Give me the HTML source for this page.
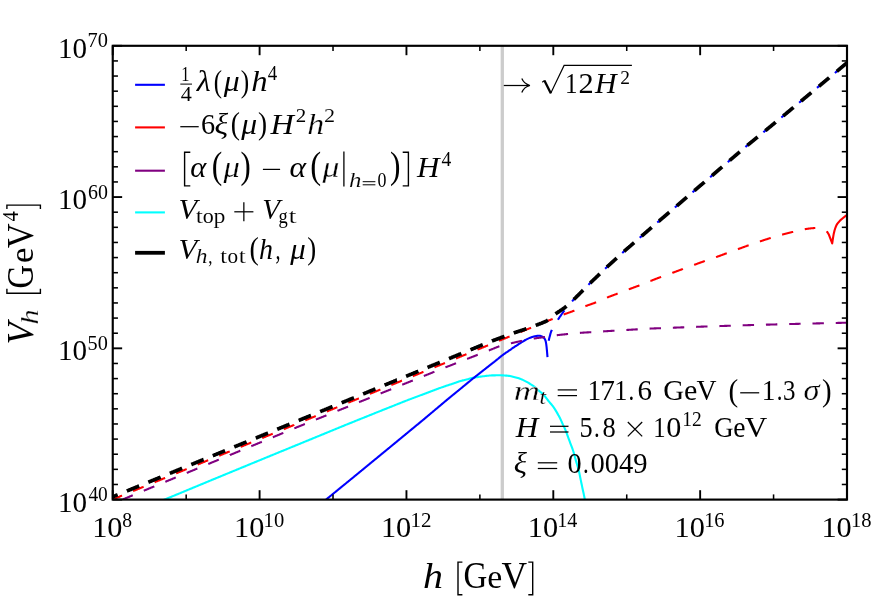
<!DOCTYPE html>
<html><head><meta charset="utf-8"><title>V_h plot</title>
<style>
html,body{margin:0;padding:0;background:#fff;}
body{width:872px;height:604px;overflow:hidden;font-family:"Liberation Serif",serif;}
svg{display:block;font-family:"Liberation Serif",serif;font-kerning:none;will-change:transform;}
</style></head><body>
<svg width="872" height="604" viewBox="0 0 872 604">
<rect x="0" y="0" width="872" height="604" fill="#fff"/>
<defs><clipPath id="ax"><rect x="112.75" y="45.8" width="734.25" height="453.8"/></clipPath></defs>
<g clip-path="url(#ax)">
<line x1="502.3" y1="45.8" x2="502.3" y2="499.6" stroke="#cccccc" stroke-width="3.3"/>
<path d="M151.60 505.00 L152.18 504.76 L152.96 504.43 L153.88 504.05 L154.90 503.62 L155.99 503.17 L157.09 502.71 L158.15 502.27 L159.15 501.85 L160.07 501.47 L160.96 501.09 L161.83 500.73 L162.72 500.36 L163.62 499.98 L164.58 499.58 L165.60 499.16 L166.70 498.70 L167.57 498.34 L168.48 497.96 L169.43 497.57 L170.42 497.16 L171.43 496.74 L172.46 496.31 L173.50 495.88 L174.54 495.45 L175.57 495.02 L176.60 494.59 L177.60 494.18 L178.59 493.76 L179.58 493.35 L180.57 492.94 L181.56 492.53 L182.55 492.12 L183.55 491.71 L184.54 491.30 L185.53 490.88 L186.52 490.47 L187.51 490.06 L188.50 489.65 L189.49 489.24 L190.48 488.83 L191.47 488.42 L192.46 488.00 L193.45 487.59 L194.45 487.18 L195.44 486.77 L196.43 486.36 L197.42 485.95 L198.41 485.54 L199.40 485.12 L200.39 484.72 L201.36 484.31 L202.33 483.91 L203.30 483.50 L204.27 483.10 L205.24 482.70 L206.22 482.29 L207.22 481.88 L208.23 481.46 L209.25 481.03 L210.30 480.60 L211.21 480.23 L212.13 479.84 L213.06 479.46 L214.01 479.07 L214.97 478.67 L215.93 478.27 L216.90 477.87 L217.88 477.47 L218.85 477.07 L219.83 476.67 L220.80 476.27 L221.77 475.87 L222.73 475.48 L223.68 475.08 L224.64 474.69 L225.59 474.29 L226.55 473.90 L227.50 473.50 L228.46 473.11 L229.42 472.72 L230.37 472.32 L231.33 471.93 L232.28 471.53 L233.24 471.14 L234.19 470.74 L235.15 470.35 L236.11 469.96 L237.06 469.56 L238.02 469.17 L238.97 468.77 L239.93 468.38 L240.88 467.98 L241.84 467.59 L242.80 467.20 L243.75 466.80 L244.71 466.41 L245.66 466.01 L246.62 465.62 L247.57 465.23 L248.53 464.83 L249.49 464.43 L250.45 464.04 L251.41 463.64 L252.37 463.24 L253.33 462.85 L254.29 462.45 L255.25 462.06 L256.21 461.66 L257.16 461.27 L258.11 460.88 L259.06 460.49 L260.00 460.10 L261.01 459.68 L262.02 459.27 L263.03 458.86 L264.03 458.44 L265.03 458.04 L266.03 457.63 L267.02 457.22 L268.02 456.81 L269.01 456.41 L270.00 456.00 L271.00 455.59 L272.00 455.18 L273.00 454.77 L274.00 454.36 L275.00 453.95 L276.00 453.54 L277.00 453.13 L278.00 452.72 L279.00 452.31 L280.00 451.90 L281.00 451.49 L282.00 451.08 L283.00 450.67 L284.00 450.26 L285.00 449.85 L286.00 449.44 L287.00 449.03 L288.00 448.62 L289.00 448.21 L290.00 447.80 L291.00 447.39 L292.00 446.98 L293.00 446.57 L294.00 446.16 L295.00 445.75 L296.00 445.34 L297.00 444.93 L298.00 444.52 L299.00 444.11 L300.00 443.70 L301.00 443.29 L302.00 442.88 L303.00 442.47 L304.00 442.06 L305.00 441.65 L306.00 441.24 L307.00 440.83 L308.00 440.42 L309.01 440.01 L310.03 439.59 L311.07 439.16 L312.10 438.74 L313.14 438.31 L314.18 437.89 L315.20 437.47 L316.21 437.05 L317.20 436.65 L318.16 436.25 L319.10 435.87 L320.00 435.50 L321.14 435.03 L322.23 434.59 L323.27 434.16 L324.27 433.75 L325.25 433.34 L326.22 432.95 L327.18 432.55 L328.16 432.15 L329.17 431.73 L330.19 431.31 L331.20 430.90 L332.22 430.48 L333.24 430.06 L334.26 429.64 L335.28 429.22 L336.30 428.80 L337.31 428.39 L338.33 427.97 L339.34 427.55 L340.34 427.14 L341.33 426.73 L342.32 426.33 L343.31 425.92 L344.32 425.50 L345.35 425.08 L346.41 424.64 L347.50 424.20 L348.42 423.83 L349.37 423.44 L350.33 423.05 L351.32 422.66 L352.31 422.26 L353.32 421.85 L354.32 421.45 L355.33 421.04 L356.34 420.64 L357.34 420.23 L358.33 419.83 L359.32 419.44 L360.30 419.04 L361.29 418.64 L362.27 418.25 L363.26 417.85 L364.24 417.45 L365.23 417.05 L366.21 416.66 L367.20 416.26 L368.18 415.86 L369.17 415.47 L370.16 415.07 L371.16 414.66 L372.17 414.26 L373.18 413.85 L374.18 413.44 L375.19 413.04 L376.18 412.63 L377.17 412.24 L378.13 411.85 L379.08 411.47 L380.00 411.10 L381.09 410.66 L382.15 410.24 L383.18 409.83 L384.19 409.43 L385.18 409.04 L386.17 408.65 L387.16 408.26 L388.16 407.87 L389.17 407.47 L390.19 407.06 L391.20 406.66 L392.22 406.26 L393.24 405.85 L394.26 405.45 L395.28 405.04 L396.30 404.64 L397.31 404.24 L398.33 403.83 L399.34 403.43 L400.34 403.03 L401.33 402.64 L402.32 402.24 L403.31 401.84 L404.32 401.44 L405.35 401.04 L406.41 400.62 L407.50 400.20 L408.42 399.85 L409.37 399.49 L410.33 399.12 L411.32 398.75 L412.31 398.38 L413.32 398.01 L414.32 397.63 L415.33 397.25 L416.34 396.88 L417.34 396.50 L418.33 396.13 L419.32 395.76 L420.30 395.39 L421.29 395.02 L422.27 394.65 L423.26 394.28 L424.24 393.92 L425.23 393.55 L426.21 393.18 L427.20 392.81 L428.18 392.44 L429.17 392.07 L430.15 391.69 L431.14 391.32 L432.14 390.94 L433.13 390.56 L434.12 390.19 L435.11 389.81 L436.10 389.44 L437.08 389.07 L438.06 388.70 L439.04 388.35 L440.00 388.00 L441.05 387.63 L442.09 387.26 L443.13 386.91 L444.16 386.56 L445.18 386.21 L446.21 385.87 L447.23 385.53 L448.25 385.19 L449.27 384.85 L450.30 384.50 L451.35 384.14 L452.41 383.77 L453.50 383.39 L454.58 383.01 L455.66 382.64 L456.72 382.27 L457.76 381.92 L458.76 381.58 L459.71 381.28 L460.60 381.00 L461.76 380.66 L462.82 380.38 L463.80 380.15 L464.72 379.93 L465.63 379.73 L466.54 379.53 L467.50 379.30 L468.43 379.06 L469.27 378.82 L470.10 378.58 L470.96 378.34 L471.93 378.10 L473.05 377.85 L474.40 377.60 L475.25 377.46 L476.19 377.30 L477.22 377.14 L478.30 376.98 L479.43 376.82 L480.59 376.65 L481.77 376.49 L482.94 376.33 L484.10 376.18 L485.22 376.04 L486.28 375.91 L487.28 375.80 L488.20 375.70 L489.56 375.57 L490.81 375.48 L491.98 375.42 L493.08 375.38 L494.12 375.35 L495.11 375.33 L496.06 375.32 L497.00 375.30 L498.15 375.28 L499.16 375.27 L500.10 375.27 L501.03 375.29 L502.00 375.33 L503.10 375.40 L503.99 375.46 L504.90 375.51 L505.84 375.58 L506.81 375.66 L507.81 375.76 L508.86 375.89 L509.95 376.07 L511.10 376.30 L511.98 376.49 L512.89 376.70 L513.84 376.93 L514.82 377.18 L515.82 377.44 L516.83 377.73 L517.85 378.03 L518.88 378.36 L519.90 378.72 L520.91 379.10 L521.90 379.50 L522.82 379.91 L523.76 380.35 L524.73 380.84 L525.70 381.35 L526.68 381.87 L527.64 382.42 L528.59 382.96 L529.50 383.50 L530.38 384.04 L531.22 384.55 L531.99 385.04 L532.70 385.50 L533.75 386.23 L534.63 386.91 L535.37 387.55 L536.04 388.18 L536.68 388.79 L537.33 389.41 L538.05 390.05 L538.81 390.68 L539.58 391.29 L540.34 391.88 L541.10 392.50 L541.87 393.14 L542.63 393.83 L543.40 394.60 L544.07 395.34 L544.75 396.13 L545.42 396.97 L546.10 397.84 L546.77 398.72 L547.45 399.61 L548.12 400.49 L548.80 401.35 L549.47 402.17 L550.15 402.97 L550.82 403.76 L551.49 404.55 L552.17 405.37 L552.84 406.22 L553.52 407.12 L554.20 408.10 L554.76 408.95 L555.33 409.87 L555.92 410.85 L556.52 411.85 L557.10 412.87 L557.68 413.89 L558.23 414.89 L558.76 415.85 L559.25 416.76 L559.70 417.60 L560.26 418.68 L560.73 419.65 L561.14 420.56 L561.52 421.42 L561.88 422.26 L562.25 423.11 L562.65 424.00 L563.06 424.88 L563.47 425.71 L563.87 426.54 L564.28 427.38 L564.70 428.29 L565.13 429.28 L565.60 430.40 L565.95 431.27 L566.31 432.21 L566.68 433.20 L567.06 434.24 L567.45 435.31 L567.84 436.39 L568.23 437.49 L568.63 438.58 L569.02 439.65 L569.40 440.70 L569.78 441.73 L570.18 442.77 L570.57 443.80 L570.97 444.84 L571.36 445.88 L571.75 446.91 L572.13 447.94 L572.50 448.97 L572.86 449.99 L573.20 451.00 L573.52 452.00 L573.82 453.00 L574.11 453.99 L574.39 454.97 L574.66 455.95 L574.93 456.93 L575.19 457.91 L575.46 458.89 L575.72 459.87 L576.00 460.85 L576.28 461.84 L576.57 462.83 L576.87 463.82 L577.16 464.81 L577.45 465.80 L577.74 466.79 L578.02 467.78 L578.29 468.76 L578.55 469.73 L578.80 470.70 L579.06 471.76 L579.29 472.82 L579.52 473.87 L579.73 474.91 L579.94 475.95 L580.14 476.98 L580.35 478.02 L580.55 479.06 L580.77 480.10 L580.99 481.14 L581.20 482.19 L581.42 483.23 L581.64 484.28 L581.86 485.32 L582.08 486.37 L582.30 487.41 L582.51 488.46 L582.73 489.50 L582.95 490.54 L583.18 491.56 L583.40 492.57 L583.63 493.58 L583.85 494.61 L584.07 495.64 L584.29 496.70 L584.50 497.78 L584.70 498.90 L584.87 499.89 L585.03 500.96 L585.21 502.10 L585.38 503.28 L585.54 504.46 L585.70 505.61 L585.85 506.71 L585.99 507.73 L586.11 508.63 L586.22 509.40 L586.30 510.00" fill="none" stroke="#00ffff" stroke-width="2.1" stroke-linejoin="round"/>
<path d="M317.60 506.50 L317.82 506.32 L318.07 506.12 L318.35 505.89 L318.66 505.63 L319.00 505.35 L319.37 505.05 L319.75 504.74 L320.15 504.41 L320.57 504.06 L321.01 503.71 L321.45 503.34 L321.90 502.97 L322.36 502.60 L322.82 502.22 L323.28 501.84 L323.74 501.47 L324.19 501.10 L324.64 500.73 L325.07 500.38 L325.49 500.03 L325.90 499.70 L326.30 499.38 L326.69 499.05 L327.09 498.73 L327.49 498.40 L327.88 498.08 L328.28 497.75 L328.68 497.43 L329.08 497.10 L329.48 496.78 L329.87 496.45 L330.27 496.13 L330.67 495.80 L331.07 495.48 L331.46 495.15 L331.86 494.83 L332.26 494.50 L332.66 494.18 L333.06 493.85 L333.45 493.53 L333.85 493.20 L334.25 492.88 L334.65 492.55 L335.05 492.23 L335.44 491.90 L335.84 491.57 L336.24 491.25 L336.64 490.93 L337.03 490.60 L337.43 490.27 L337.83 489.95 L338.23 489.62 L338.62 489.30 L339.02 488.97 L339.42 488.65 L339.82 488.32 L340.21 488.00 L340.61 487.68 L341.01 487.35 L341.41 487.02 L341.80 486.70 L342.20 486.38 L342.60 486.05 L343.00 485.72 L343.40 485.40 L343.79 485.07 L344.19 484.75 L344.59 484.42 L344.99 484.10 L345.38 483.77 L345.78 483.45 L346.18 483.12 L346.58 482.80 L346.97 482.47 L347.37 482.15 L347.77 481.82 L348.17 481.50 L348.56 481.17 L348.96 480.85 L349.36 480.52 L349.76 480.20 L350.15 479.87 L350.55 479.55 L350.95 479.22 L351.35 478.90 L351.74 478.58 L352.13 478.26 L352.52 477.94 L352.91 477.63 L353.29 477.31 L353.68 477.00 L354.06 476.68 L354.45 476.37 L354.84 476.05 L355.23 475.73 L355.62 475.41 L356.01 475.09 L356.41 474.77 L356.81 474.44 L357.21 474.11 L357.62 473.78 L358.03 473.44 L358.45 473.10 L358.87 472.75 L359.30 472.40 L359.67 472.10 L360.04 471.80 L360.41 471.49 L360.79 471.18 L361.17 470.86 L361.56 470.55 L361.94 470.23 L362.33 469.91 L362.73 469.59 L363.12 469.26 L363.52 468.93 L363.92 468.61 L364.32 468.28 L364.72 467.95 L365.12 467.61 L365.53 467.28 L365.93 466.95 L366.33 466.62 L366.73 466.29 L367.14 465.96 L367.54 465.63 L367.94 465.30 L368.33 464.97 L368.73 464.65 L369.12 464.32 L369.52 464.00 L369.91 463.68 L370.30 463.36 L370.70 463.03 L371.09 462.71 L371.48 462.39 L371.88 462.06 L372.27 461.74 L372.66 461.42 L373.06 461.09 L373.45 460.77 L373.84 460.45 L374.23 460.13 L374.63 459.80 L375.02 459.48 L375.41 459.16 L375.81 458.83 L376.20 458.51 L376.59 458.19 L376.99 457.87 L377.38 457.54 L377.77 457.22 L378.16 456.90 L378.56 456.57 L378.95 456.25 L379.34 455.93 L379.74 455.60 L380.13 455.28 L380.52 454.96 L380.92 454.63 L381.31 454.31 L381.70 453.99 L382.09 453.67 L382.49 453.34 L382.88 453.02 L383.27 452.70 L383.67 452.37 L384.06 452.05 L384.45 451.73 L384.85 451.41 L385.24 451.08 L385.63 450.76 L386.02 450.44 L386.42 450.11 L386.81 449.79 L387.20 449.47 L387.60 449.14 L387.99 448.82 L388.38 448.50 L388.78 448.18 L389.17 447.85 L389.57 447.53 L389.96 447.20 L390.36 446.87 L390.76 446.54 L391.16 446.21 L391.57 445.88 L391.97 445.55 L392.37 445.22 L392.78 444.89 L393.18 444.56 L393.58 444.23 L393.98 443.90 L394.38 443.57 L394.77 443.25 L395.17 442.92 L395.56 442.60 L395.95 442.28 L396.34 441.96 L396.73 441.64 L397.11 441.33 L397.49 441.01 L397.86 440.71 L398.23 440.40 L398.60 440.10 L399.03 439.75 L399.45 439.40 L399.87 439.05 L400.28 438.71 L400.69 438.38 L401.10 438.04 L401.50 437.71 L401.89 437.39 L402.29 437.06 L402.68 436.74 L403.07 436.42 L403.46 436.10 L403.84 435.78 L404.23 435.46 L404.62 435.14 L405.01 434.82 L405.39 434.50 L405.78 434.18 L406.18 433.85 L406.57 433.53 L406.97 433.20 L407.37 432.87 L407.76 432.54 L408.16 432.21 L408.56 431.89 L408.96 431.56 L409.36 431.23 L409.76 430.90 L410.15 430.57 L410.55 430.24 L410.95 429.91 L411.35 429.59 L411.75 429.26 L412.15 428.93 L412.54 428.60 L412.94 428.27 L413.34 427.94 L413.74 427.61 L414.14 427.29 L414.54 426.96 L414.93 426.63 L415.33 426.30 L415.73 425.97 L416.13 425.64 L416.53 425.31 L416.94 424.98 L417.34 424.65 L417.74 424.32 L418.15 423.99 L418.55 423.65 L418.95 423.32 L419.36 422.99 L419.76 422.66 L420.16 422.33 L420.56 422.00 L420.96 421.67 L421.36 421.34 L421.75 421.02 L422.15 420.69 L422.54 420.36 L422.93 420.04 L423.32 419.72 L423.70 419.40 L424.10 419.07 L424.50 418.73 L424.89 418.40 L425.29 418.07 L425.68 417.75 L426.07 417.42 L426.45 417.10 L426.84 416.77 L427.22 416.45 L427.61 416.12 L427.99 415.80 L428.37 415.48 L428.75 415.16 L429.13 414.84 L429.51 414.52 L429.90 414.19 L430.28 413.87 L430.66 413.55 L431.05 413.22 L431.43 412.90 L431.82 412.57 L432.21 412.25 L432.59 411.92 L432.98 411.60 L433.37 411.27 L433.75 410.95 L434.14 410.62 L434.53 410.30 L434.91 409.97 L435.30 409.65 L435.69 409.32 L436.07 409.00 L436.46 408.67 L436.85 408.35 L437.23 408.02 L437.62 407.70 L438.01 407.37 L438.39 407.05 L438.78 406.72 L439.17 406.40 L439.55 406.08 L439.94 405.75 L440.32 405.43 L440.70 405.11 L441.08 404.79 L441.46 404.47 L441.83 404.15 L442.21 403.83 L442.59 403.51 L442.97 403.19 L443.35 402.87 L443.74 402.55 L444.12 402.22 L444.51 401.90 L444.90 401.57 L445.29 401.24 L445.69 400.91 L446.09 400.58 L446.49 400.24 L446.90 399.90 L447.28 399.59 L447.65 399.28 L448.04 398.96 L448.42 398.64 L448.81 398.32 L449.20 398.00 L449.60 397.68 L449.99 397.35 L450.39 397.03 L450.79 396.70 L451.19 396.37 L451.59 396.04 L451.99 395.72 L452.40 395.39 L452.80 395.06 L453.20 394.73 L453.60 394.40 L454.01 394.07 L454.41 393.74 L454.81 393.42 L455.20 393.09 L455.60 392.77 L456.00 392.44 L456.39 392.12 L456.79 391.79 L457.18 391.47 L457.58 391.15 L457.97 390.82 L458.37 390.50 L458.76 390.17 L459.16 389.85 L459.55 389.52 L459.95 389.20 L460.35 388.88 L460.74 388.55 L461.14 388.23 L461.53 387.90 L461.93 387.58 L462.32 387.25 L462.72 386.93 L463.11 386.61 L463.51 386.28 L463.90 385.96 L464.30 385.63 L464.70 385.31 L465.09 384.98 L465.49 384.65 L465.89 384.32 L466.30 383.99 L466.70 383.66 L467.10 383.33 L467.50 383.00 L467.90 382.67 L468.31 382.33 L468.71 382.00 L469.11 381.67 L469.51 381.35 L469.90 381.02 L470.30 380.70 L470.69 380.37 L471.08 380.05 L471.47 379.74 L471.86 379.42 L472.24 379.11 L472.62 378.80 L473.00 378.50 L473.43 378.15 L473.86 377.81 L474.28 377.48 L474.70 377.14 L475.12 376.81 L475.53 376.49 L475.94 376.17 L476.35 375.85 L476.75 375.53 L477.16 375.21 L477.56 374.90 L477.96 374.58 L478.37 374.27 L478.77 373.96 L479.17 373.64 L479.58 373.32 L479.98 373.01 L480.39 372.69 L480.80 372.37 L481.21 372.04 L481.62 371.72 L482.03 371.40 L482.44 371.08 L482.85 370.75 L483.26 370.43 L483.67 370.11 L484.08 369.78 L484.49 369.46 L484.91 369.14 L485.32 368.82 L485.73 368.49 L486.14 368.17 L486.55 367.85 L486.96 367.52 L487.37 367.20 L487.78 366.88 L488.19 366.56 L488.60 366.23 L489.01 365.91 L489.43 365.58 L489.84 365.26 L490.26 364.93 L490.68 364.60 L491.10 364.27 L491.53 363.94 L491.95 363.61 L492.37 363.28 L492.78 362.95 L493.20 362.62 L493.61 362.30 L494.03 361.98 L494.43 361.65 L494.84 361.34 L495.24 361.02 L495.63 360.71 L496.02 360.40 L496.40 360.10 L496.85 359.74 L497.28 359.39 L497.71 359.04 L498.14 358.70 L498.56 358.35 L498.97 358.01 L499.38 357.68 L499.79 357.34 L500.19 357.01 L500.59 356.68 L500.99 356.36 L501.39 356.04 L501.79 355.73 L502.19 355.41 L502.60 355.11 L503.00 354.80 L503.43 354.48 L503.86 354.17 L504.29 353.86 L504.72 353.56 L505.15 353.27 L505.57 352.98 L506.00 352.69 L506.42 352.40 L506.85 352.12 L507.27 351.83 L507.70 351.55 L508.12 351.27 L508.55 350.98 L508.97 350.69 L509.40 350.40 L509.82 350.11 L510.22 349.83 L510.61 349.56 L510.99 349.28 L511.37 349.01 L511.75 348.75 L512.14 348.47 L512.53 348.20 L512.93 347.92 L513.35 347.63 L513.79 347.33 L514.24 347.02 L514.73 346.70 L515.25 346.36 L515.80 346.00 L516.15 345.77 L516.52 345.54 L516.90 345.29 L517.30 345.03 L517.71 344.76 L518.14 344.49 L518.57 344.21 L519.01 343.92 L519.46 343.63 L519.92 343.34 L520.38 343.05 L520.84 342.75 L521.31 342.46 L521.77 342.17 L522.24 341.88 L522.70 341.59 L523.16 341.31 L523.61 341.04 L524.05 340.78 L524.49 340.52 L524.92 340.27 L525.33 340.03 L525.74 339.81 L526.13 339.60 L526.50 339.40 L527.06 339.11 L527.61 338.85 L528.15 338.60 L528.67 338.36 L529.18 338.15 L529.67 337.94 L530.16 337.76 L530.63 337.58 L531.09 337.42 L531.55 337.26 L531.99 337.12 L532.43 336.98 L532.86 336.85 L533.28 336.73 L533.69 336.61 L534.10 336.50 L534.74 336.33 L535.35 336.19 L535.94 336.06 L536.50 335.96 L537.04 335.88 L537.57 335.82 L538.07 335.79 L538.56 335.77 L539.04 335.78 L539.50 335.80 L540.13 335.87 L540.72 335.99 L541.28 336.16 L541.81 336.36 L542.30 336.61 L542.77 336.89 L543.20 337.20 L543.60 337.54 L543.97 337.90 L544.31 338.30 L544.61 338.75 L544.90 339.24 L545.16 339.79 L545.40 340.40 L545.53 340.78 L545.65 341.17 L545.75 341.57 L545.85 341.99 L545.94 342.42 L546.02 342.87 L546.10 343.36 L546.18 343.87 L546.26 344.42 L546.34 345.00 L546.42 345.63 L546.50 346.30 L546.55 346.72 L546.60 347.18 L546.66 347.68 L546.71 348.21 L546.77 348.77 L546.82 349.34 L546.88 349.94 L546.93 350.54 L546.99 351.15 L547.04 351.76 L547.10 352.37 L547.15 352.97 L547.20 353.55 L547.24 354.12 L547.29 354.66 L547.33 355.17 L547.37 355.64 L547.41 356.08 L547.44 356.47 L547.47 356.81 L547.50 357.10" fill="none" stroke="#0000ff" stroke-width="2.1" stroke-linejoin="round"/>
<path d="M548.64 340.76 L548.68 340.59 L548.78 340.18 L548.90 339.69 L549.03 339.15 L549.18 338.57 L549.33 337.96 L549.49 337.35 L549.65 336.76 L549.80 336.20 L549.93 335.72 L550.06 335.23 L550.18 334.74 L550.31 334.26 L550.44 333.76 L550.58 333.26 L550.74 332.76 L550.91 332.25 L551.09 331.73 L551.30 331.20 L551.49 330.75 L551.69 330.29 L551.89 329.86 M557.93 319.71 L558.05 319.53 L558.30 319.15 L558.58 318.74 L558.86 318.32 L559.15 317.89 L559.45 317.44 L559.76 316.99 L560.07 316.53 L560.39 316.06 L560.71 315.59 L561.03 315.13 L561.34 314.66 L561.66 314.20 L561.98 313.75 L562.28 313.30 L562.59 312.87 L562.88 312.45 L563.16 312.05 L563.44 311.66 L563.70 311.30 L564.08 310.77 L564.41 310.33 M572.08 301.35 L572.30 301.11 L572.50 300.90 L572.84 300.38 L573.18 300.05 L573.52 299.73 L573.86 299.40 L574.20 299.06 L574.54 298.73 L574.89 298.39 L575.24 298.05 L575.58 297.70 L575.94 297.36 L576.29 297.01 L576.65 296.65 L577.00 296.29 L577.37 295.93 L577.73 295.57 L578.10 295.20 L578.47 294.83 L578.85 294.45 L579.23 294.07 L579.61 293.69 L580.00 293.30 L580.06 293.24 M588.37 284.82 L588.55 284.64 L588.90 284.30 L589.28 283.93 L589.65 283.56 L590.02 283.20 L590.40 282.84 L590.77 282.48 L591.14 282.12 L591.50 281.77 L591.87 281.42 L592.24 281.07 L592.61 280.72 L592.97 280.37 L593.34 280.02 L593.70 279.67 L594.06 279.33 L594.43 278.98 L594.79 278.64 L595.16 278.29 L595.52 277.94 L595.89 277.60 L596.25 277.25 L596.59 276.93 M605.12 268.74 L605.43 268.45 L605.80 268.10 L606.17 267.75 L606.54 267.41 L606.91 267.06 L607.28 266.72 L607.65 266.38 L608.02 266.03 L608.39 265.69 L608.77 265.35 L609.14 265.01 L609.51 264.67 L609.88 264.33 L610.25 263.99 L610.63 263.65 L611.00 263.31 L611.37 262.97 L611.74 262.63 L612.12 262.29 L612.49 261.95 L612.86 261.61 L613.23 261.27 L613.51 261.02 M622.21 253.02 L622.52 252.74 L622.90 252.40 L623.28 252.06 L623.66 251.72 L624.04 251.39 L624.42 251.05 L624.80 250.72 L625.19 250.38 L625.57 250.05 L625.96 249.71 L626.34 249.38 L626.73 249.04 L627.11 248.71 L627.50 248.37 L627.89 248.04 L628.27 247.71 L628.66 247.37 L629.05 247.04 L629.43 246.70 L629.82 246.37 L630.21 246.04 L630.59 245.70 L630.80 245.53 M639.71 237.77 L639.84 237.66 L640.22 237.33 L640.60 237.00 L640.98 236.67 L641.36 236.34 L641.74 236.01 L642.12 235.68 L642.50 235.35 L642.88 235.02 L643.26 234.69 L643.64 234.36 L644.02 234.03 L644.39 233.71 L644.77 233.38 L645.15 233.05 L645.53 232.72 L645.90 232.40 L646.28 232.07 L646.66 231.74 L647.03 231.42 L647.41 231.09 L647.79 230.76 L648.17 230.43 L648.32 230.30 M657.25 222.55 L657.62 222.23 L658.00 221.90 L658.38 221.57 L658.76 221.24 L659.15 220.92 L659.53 220.59 L659.91 220.26 L660.30 219.93 L660.68 219.60 L661.07 219.27 L661.45 218.95 L661.84 218.62 L662.22 218.29 L662.61 217.96 L662.99 217.63 L663.38 217.30 L663.77 216.98 L664.15 216.65 L664.54 216.32 L664.92 215.99 L665.31 215.66 L665.69 215.33 L665.92 215.14 M674.91 207.48 L674.93 207.46 L675.32 207.13 L675.70 206.80 L676.08 206.47 L676.47 206.14 L676.85 205.81 L677.23 205.48 L677.62 205.15 L678.00 204.82 L678.38 204.49 L678.76 204.16 L679.15 203.83 L679.53 203.50 L679.91 203.17 L680.29 202.84 L680.68 202.51 L681.06 202.18 L681.44 201.85 L681.82 201.51 L682.21 201.18 L682.59 200.85 L682.97 200.52 L683.35 200.19 L683.54 200.03 M692.49 192.30 L692.53 192.26 L692.91 191.93 L693.30 191.60 L693.69 191.27 L694.07 190.94 L694.46 190.60 L694.85 190.27 L695.24 189.94 L695.62 189.61 L696.01 189.28 L696.40 188.94 L696.79 188.61 L697.18 188.28 L697.57 187.94 L697.96 187.61 L698.35 187.28 L698.74 186.95 L699.13 186.61 L699.52 186.28 L699.91 185.95 L700.30 185.61 L700.69 185.28 L701.08 184.95 L701.15 184.89 M710.14 177.21 L710.43 176.96 L710.81 176.63 L711.20 176.30 L711.59 175.97 L711.97 175.64 L712.36 175.31 L712.75 174.98 L713.13 174.64 L713.52 174.31 L713.90 173.98 L714.29 173.65 L714.67 173.32 L715.05 172.99 L715.44 172.66 L715.82 172.33 L716.21 172.00 L716.59 171.67 L716.98 171.34 L717.36 171.01 L717.74 170.68 L718.13 170.35 L718.51 170.02 L718.79 169.79 M727.75 162.08 L728.13 161.76 L728.52 161.43 L728.90 161.10 L729.28 160.77 L729.67 160.44 L730.05 160.12 L730.43 159.79 L730.82 159.46 L731.20 159.14 L731.58 158.81 L731.96 158.48 L732.35 158.16 L732.73 157.83 L733.11 157.51 L733.49 157.18 L733.88 156.86 L734.26 156.53 L734.64 156.20 L735.02 155.88 L735.41 155.55 L735.79 155.23 L736.17 154.90 L736.43 154.69 M745.42 147.01 L745.73 146.74 L746.12 146.42 L746.50 146.10 L746.90 145.77 L747.30 145.43 L747.70 145.10 L748.11 144.77 L748.51 144.44 L748.91 144.10 L749.31 143.77 L749.71 143.45 L750.12 143.12 L750.52 142.79 L750.92 142.46 L751.32 142.13 L751.73 141.80 L752.13 141.48 L752.53 141.15 L752.94 140.82 L753.34 140.49 L753.74 140.16 L754.14 139.84 L754.22 139.77 M763.37 132.28 L763.39 132.26 L763.79 131.93 L764.20 131.60 L764.59 131.28 L764.98 130.96 L765.37 130.64 L765.76 130.32 L766.15 130.00 L766.54 129.68 L766.93 129.36 L767.32 129.04 L767.71 128.72 L768.10 128.39 L768.49 128.07 L768.89 127.75 L769.28 127.43 L769.67 127.10 L770.06 126.78 L770.46 126.46 L770.85 126.13 L771.24 125.81 L771.63 125.49 L772.02 125.17 L772.17 125.04 M781.31 117.54 L781.42 117.45 L781.81 117.12 L782.20 116.80 L782.59 116.48 L782.98 116.15 L783.37 115.83 L783.76 115.51 L784.15 115.18 L784.54 114.86 L784.93 114.54 L785.32 114.21 L785.71 113.89 L786.09 113.56 L786.48 113.24 L786.87 112.92 L787.26 112.59 L787.65 112.27 L788.04 111.94 L788.43 111.62 L788.82 111.29 L789.21 110.97 L789.59 110.65 L789.98 110.32 L790.07 110.25 M799.15 102.69 L799.32 102.55 L799.71 102.22 L800.10 101.90 L800.49 101.58 L800.88 101.25 L801.27 100.93 L801.66 100.60 L802.05 100.28 L802.43 99.96 L802.82 99.63 L803.21 99.31 L803.60 98.98 L803.99 98.66 L804.38 98.34 L804.77 98.01 L805.16 97.69 L805.55 97.37 L805.94 97.04 L806.33 96.72 L806.72 96.39 L807.10 96.07 L807.49 95.75 L807.88 95.42 L807.92 95.39 M817.00 87.83 L817.22 87.65 L817.61 87.33 L818.00 87.00 L818.39 86.67 L818.79 86.35 L819.18 86.02 L819.57 85.69 L819.97 85.37 L820.36 85.04 L820.76 84.71 L821.15 84.38 L821.55 84.05 L821.95 83.72 L822.34 83.40 L822.74 83.07 L823.14 82.74 L823.53 82.41 L823.93 82.08 L824.33 81.75 L824.72 81.42 L825.12 81.09 L825.52 80.76 L825.77 80.55 M834.87 73.01 L835.18 72.75 L835.53 72.46 L835.87 72.17 L836.20 71.90 L836.71 71.47 L837.19 71.07 L837.64 70.69 L838.07 70.33 L838.47 69.98 L838.86 69.65 L839.24 69.33 L839.61 69.01 L839.97 68.70 L840.34 68.39 L840.70 68.08 L841.07 67.76 L841.45 67.44 L841.85 67.10 L842.25 66.76 L842.65 66.42 L843.05 66.08 L843.45 65.74 L843.57 65.64 M852.58 57.99 L852.96 57.67 L853.36 57.33 L853.75 57.00 L854.15 56.66 L854.57 56.30 L855.01 55.93 L855.46 55.55 L855.91 55.17 L856.37 54.78 L856.82 54.40 L857.27 54.02 L857.70 53.65 L858.11 53.30 L858.51 52.96 L858.88 52.65 L859.21 52.37 L859.52 52.11 L859.78 51.89 L860.00 51.70" fill="none" stroke="#0000ff" stroke-width="2.1"/>
<path d="M101.60 508.20 L101.86 508.09 L102.15 507.97 L102.48 507.84 L102.83 507.69 L103.22 507.53 L103.64 507.36 L104.08 507.17 L104.54 506.98 L105.02 506.78 L105.52 506.57 L106.04 506.36 L106.57 506.14 L107.10 505.92 L107.65 505.70 L108.19 505.47 L108.75 505.24 L109.30 505.01 L109.85 504.79 L110.39 504.56 L110.93 504.34 L111.29 504.19 M122.27 499.64 L122.34 499.61 L122.82 499.41 L123.31 499.21 L123.80 499.01 L124.30 498.80 L124.74 498.62 L125.19 498.43 L125.64 498.24 L126.09 498.06 L126.55 497.87 L127.01 497.68 L127.47 497.49 L127.93 497.30 L128.39 497.10 L128.86 496.91 L129.33 496.72 L129.80 496.52 L130.26 496.33 L130.74 496.13 L131.21 495.94 L131.68 495.74 L132.15 495.55 L132.62 495.35 L132.80 495.28 M143.77 490.73 L143.82 490.71 L144.29 490.52 L144.75 490.33 L145.22 490.13 L145.68 489.94 L146.15 489.75 L146.61 489.56 L147.08 489.36 L147.54 489.17 L148.01 488.98 L148.47 488.79 L148.94 488.59 L149.40 488.40 L149.86 488.21 L150.33 488.01 L150.79 487.82 L151.26 487.63 L151.72 487.44 L152.19 487.24 L152.65 487.05 L153.12 486.86 L153.58 486.67 L154.05 486.47 L154.30 486.37 M165.28 481.82 L165.67 481.66 L166.13 481.47 L166.60 481.27 L167.06 481.08 L167.53 480.89 L167.99 480.70 L168.46 480.50 L168.92 480.31 L169.39 480.12 L169.85 479.93 L170.32 479.73 L170.78 479.54 L171.25 479.35 L171.71 479.16 L172.18 478.96 L172.64 478.77 L173.11 478.58 L173.57 478.39 L174.04 478.19 L174.50 478.00 L174.96 477.81 L175.43 477.61 L175.81 477.46 M186.79 472.91 L187.05 472.80 L187.51 472.61 L187.98 472.41 L188.44 472.22 L188.91 472.03 L189.37 471.84 L189.84 471.64 L190.30 471.45 L190.77 471.26 L191.23 471.07 L191.70 470.87 L192.16 470.68 L192.63 470.49 L193.09 470.30 L193.56 470.10 L194.02 469.91 L194.49 469.72 L194.95 469.53 L195.42 469.33 L195.88 469.14 L196.35 468.95 L196.81 468.76 L197.28 468.56 L197.32 468.55 M208.29 464.00 L208.43 463.94 L208.90 463.75 L209.36 463.56 L209.83 463.36 L210.29 463.17 L210.76 462.98 L211.22 462.79 L211.69 462.59 L212.15 462.40 L212.61 462.21 L213.08 462.01 L213.54 461.82 L214.01 461.63 L214.47 461.44 L214.94 461.24 L215.40 461.05 L215.87 460.86 L216.33 460.67 L216.80 460.47 L217.26 460.28 L217.73 460.09 L218.19 459.90 L218.66 459.70 L218.83 459.63 M229.80 455.09 L229.81 455.08 L230.28 454.89 L230.74 454.70 L231.21 454.50 L231.67 454.31 L232.14 454.12 L232.60 453.93 L233.07 453.73 L233.53 453.54 L234.00 453.35 L234.46 453.16 L234.93 452.96 L235.39 452.77 L235.86 452.58 L236.32 452.39 L236.79 452.19 L237.25 452.00 L237.71 451.81 L238.18 451.61 L238.64 451.42 L239.11 451.23 L239.57 451.04 L240.04 450.84 L240.33 450.72 M251.31 446.18 L251.66 446.03 L252.12 445.84 L252.59 445.64 L253.05 445.45 L253.52 445.26 L253.98 445.07 L254.45 444.87 L254.91 444.68 L255.38 444.49 L255.84 444.30 L256.31 444.10 L256.77 443.91 L257.24 443.72 L257.70 443.53 L258.17 443.33 L258.63 443.14 L259.10 442.95 L259.56 442.76 L260.03 442.56 L260.49 442.37 L260.96 442.18 L261.42 441.99 L261.84 441.81 M272.81 437.26 L273.04 437.17 L273.51 436.98 L273.97 436.79 L274.44 436.59 L274.90 436.40 L275.36 436.21 L275.83 436.01 L276.29 435.82 L276.76 435.63 L277.22 435.44 L277.69 435.24 L278.15 435.05 L278.62 434.86 L279.08 434.67 L279.55 434.47 L280.01 434.28 L280.48 434.09 L280.94 433.90 L281.41 433.70 L281.87 433.51 L282.34 433.32 L282.80 433.13 L283.27 432.93 L283.35 432.90 M294.32 428.34 L294.41 428.31 L294.87 428.11 L295.34 427.92 L295.80 427.73 L296.27 427.54 L296.73 427.34 L297.20 427.15 L297.67 426.96 L298.13 426.77 L298.60 426.57 L299.06 426.38 L299.53 426.19 L300.00 426.00 L300.47 425.81 L300.94 425.62 L301.41 425.43 L301.88 425.24 L302.35 425.04 L302.82 424.85 L303.29 424.66 L303.76 424.47 L304.23 424.28 L304.70 424.09 L304.87 424.03 M315.89 419.59 L316.03 419.53 L316.50 419.34 L316.97 419.15 L317.44 418.96 L317.91 418.77 L318.38 418.58 L318.86 418.39 L319.33 418.20 L319.80 418.01 L320.27 417.82 L320.74 417.63 L321.21 417.44 L321.68 417.25 L322.15 417.06 L322.63 416.87 L323.10 416.68 L323.57 416.49 L324.04 416.30 L324.51 416.11 L324.98 415.92 L325.45 415.73 L325.93 415.54 L326.40 415.35 L326.46 415.32 M337.48 410.88 L337.71 410.78 L338.18 410.59 L338.65 410.40 L339.12 410.21 L339.60 410.02 L340.07 409.83 L340.54 409.64 L341.01 409.45 L341.48 409.26 L341.95 409.07 L342.42 408.88 L342.90 408.69 L343.37 408.50 L343.84 408.31 L344.31 408.12 L344.78 407.93 L345.25 407.74 L345.72 407.55 L346.20 407.36 L346.67 407.17 L347.14 406.98 L347.61 406.79 L348.05 406.61 M359.06 402.16 L359.39 402.03 L359.87 401.84 L360.34 401.65 L360.81 401.46 L361.28 401.27 L361.75 401.08 L362.22 400.89 L362.69 400.70 L363.16 400.51 L363.64 400.32 L364.11 400.13 L364.58 399.94 L365.05 399.75 L365.52 399.56 L365.99 399.37 L366.46 399.18 L366.94 398.99 L367.41 398.80 L367.88 398.61 L368.35 398.42 L368.82 398.23 L369.29 398.04 L369.64 397.90 M380.65 393.45 L381.08 393.28 L381.55 393.09 L382.02 392.90 L382.49 392.71 L382.96 392.52 L383.43 392.33 L383.91 392.14 L384.38 391.95 L384.85 391.76 L385.32 391.57 L385.79 391.38 L386.26 391.19 L386.73 391.00 L387.21 390.81 L387.68 390.62 L388.15 390.43 L388.62 390.24 L389.09 390.05 L389.56 389.86 L390.03 389.66 L390.51 389.47 L390.98 389.28 L391.22 389.18 M402.24 384.74 L402.29 384.72 L402.76 384.53 L403.23 384.34 L403.70 384.15 L404.18 383.96 L404.65 383.77 L405.12 383.58 L405.59 383.39 L406.06 383.20 L406.53 383.01 L407.00 382.82 L407.47 382.63 L407.95 382.44 L408.42 382.25 L408.89 382.06 L409.36 381.87 L409.83 381.68 L410.30 381.48 L410.77 381.29 L411.25 381.10 L411.72 380.91 L412.19 380.72 L412.66 380.53 L412.81 380.47 M423.83 376.03 L423.97 375.97 L424.44 375.78 L424.92 375.59 L425.39 375.40 L425.86 375.21 L426.33 375.02 L426.80 374.83 L427.27 374.64 L427.74 374.45 L428.22 374.26 L428.69 374.06 L429.16 373.87 L429.63 373.68 L430.11 373.49 L430.58 373.30 L431.06 373.10 L431.53 372.91 L432.00 372.72 L432.48 372.53 L432.95 372.34 L433.42 372.14 L433.90 371.95 L434.37 371.76 L434.40 371.75 M445.44 367.37 L445.73 367.25 L446.20 367.07 L446.68 366.89 L447.15 366.70 L447.62 366.52 L448.10 366.34 L448.57 366.15 L449.04 365.97 L449.52 365.79 L449.99 365.60 L450.46 365.42 L450.94 365.23 L451.41 365.05 L451.88 364.87 L452.36 364.68 L452.84 364.49 L453.31 364.31 L453.79 364.12 L454.26 363.94 L454.74 363.75 L455.21 363.57 L455.69 363.38 L456.06 363.24 M467.13 358.92 L467.57 358.75 L468.05 358.56 L468.52 358.38 L469.00 358.19 L469.47 358.01 L469.95 357.82 L470.42 357.64 L470.90 357.45 L471.38 357.26 L471.85 357.08 L472.33 356.89 L472.80 356.71 L473.28 356.52 L473.75 356.34 L474.23 356.15 L474.70 355.97 L475.18 355.78 L475.65 355.60 L476.13 355.41 L476.60 355.23 L477.08 355.04 L477.56 354.85 L477.75 354.78 M488.82 350.46 L488.96 350.41 L489.44 350.22 L489.92 350.03 L490.40 349.84 L490.89 349.65 L491.37 349.45 L491.87 349.25 L492.36 349.05 L492.85 348.85 L493.35 348.65 L493.85 348.44 L494.34 348.24 L494.84 348.04 L495.33 347.84 L495.82 347.64 L496.31 347.44 L496.80 347.25 L497.28 347.06 L497.76 346.87 L498.24 346.68 L498.71 346.50 L499.17 346.33 L499.41 346.24 M510.90 343.30 L511.36 343.19 L511.83 343.09 L512.29 342.98 L512.76 342.88 L513.23 342.77 L513.70 342.66 L514.17 342.55 L514.65 342.44 L515.13 342.33 L515.61 342.22 L516.09 342.11 L516.58 342.00 L517.08 341.89 L517.57 341.78 L518.08 341.67 L518.58 341.56 L519.10 341.45 L519.61 341.34 L520.14 341.22 L520.67 341.11 L521.20 341.00 L521.66 340.91 L522.03 340.83 M533.69 338.57 L534.06 338.51 L534.60 338.42 L535.13 338.34 L535.65 338.26 L536.16 338.19 L536.66 338.12 L537.16 338.06 L537.65 337.99 L538.14 337.93 L538.62 337.87 L539.11 337.81 L539.60 337.75 L540.10 337.69 L540.60 337.63 L541.10 337.56 L541.62 337.50 L542.14 337.43 L542.68 337.36 L543.23 337.28 L543.80 337.20 L544.27 337.13 L544.74 337.06 L544.99 337.03 M556.74 335.27 L557.07 335.22 L557.62 335.15 L558.16 335.08 L558.69 335.02 L559.20 334.95 L559.71 334.89 L560.21 334.83 L560.71 334.77 L561.20 334.71 L561.69 334.66 L562.18 334.60 L562.67 334.55 L563.17 334.49 L563.67 334.44 L564.18 334.38 L564.70 334.33 L565.23 334.27 L565.77 334.22 L566.33 334.16 L566.90 334.10 L567.37 334.05 L567.85 334.00 L568.06 333.98 M579.89 332.89 L580.33 332.86 L580.85 332.82 L581.37 332.78 L581.89 332.74 L582.40 332.71 L582.91 332.67 L583.41 332.64 L583.92 332.61 L584.42 332.57 L584.92 332.54 L585.41 332.51 L585.91 332.48 L586.40 332.45 L586.89 332.42 L587.39 332.39 L587.88 332.36 L588.37 332.33 L588.86 332.30 L589.36 332.27 L589.85 332.24 L590.35 332.21 L590.85 332.18 L591.27 332.16 M603.12 331.39 L603.40 331.37 L603.90 331.34 L604.41 331.31 L604.91 331.28 L605.41 331.24 L605.91 331.21 L606.42 331.18 L606.92 331.15 L607.42 331.12 L607.92 331.09 L608.42 331.06 L608.93 331.03 L609.43 331.00 L609.93 330.97 L610.43 330.94 L610.93 330.91 L611.44 330.88 L611.94 330.85 L612.44 330.82 L612.94 330.79 L613.45 330.76 L613.95 330.73 L614.45 330.70 L614.50 330.70 M626.36 329.98 L626.51 329.97 L627.02 329.94 L627.53 329.91 L628.04 329.88 L628.55 329.85 L629.06 329.82 L629.57 329.79 L630.09 329.76 L630.60 329.73 L631.11 329.70 L631.63 329.67 L632.14 329.63 L632.66 329.60 L633.17 329.57 L633.69 329.54 L634.20 329.51 L634.72 329.48 L635.23 329.45 L635.74 329.42 L636.26 329.39 L636.77 329.36 L637.29 329.33 L637.74 329.30 M649.60 328.60 L649.60 328.60 L650.09 328.58 L650.58 328.55 L651.07 328.53 L651.57 328.51 L652.07 328.49 L652.57 328.47 L653.07 328.45 L653.57 328.43 L654.08 328.41 L654.58 328.39 L655.09 328.38 L655.60 328.36 L656.10 328.34 L656.61 328.32 L657.12 328.30 L657.63 328.29 L658.14 328.27 L658.65 328.25 L659.16 328.23 L659.67 328.22 L660.18 328.20 L660.68 328.18 L660.99 328.17 M672.86 327.72 L673.29 327.71 L673.79 327.69 L674.30 327.67 L674.80 327.65 L675.30 327.63 L675.81 327.61 L676.31 327.59 L676.82 327.57 L677.32 327.55 L677.82 327.54 L678.33 327.52 L678.83 327.50 L679.34 327.48 L679.84 327.46 L680.34 327.44 L680.85 327.42 L681.35 327.40 L681.86 327.38 L682.36 327.37 L682.86 327.35 L683.37 327.33 L683.87 327.31 L684.26 327.29 M696.13 326.84 L696.48 326.83 L696.98 326.81 L697.49 326.79 L697.99 326.77 L698.49 326.75 L699.00 326.74 L699.50 326.72 L700.00 326.70 L700.50 326.68 L701.00 326.67 L701.50 326.65 L702.01 326.63 L702.51 326.62 L703.01 326.60 L703.51 326.58 L704.01 326.57 L704.51 326.55 L705.01 326.53 L705.51 326.52 L706.01 326.50 L706.51 326.49 L707.01 326.47 L707.50 326.46 L707.52 326.46 M719.39 326.08 L719.50 326.08 L720.00 326.06 L720.50 326.04 L721.00 326.03 L721.50 326.01 L722.00 326.00 L722.50 325.98 L723.00 325.96 L723.50 325.95 L724.00 325.93 L724.50 325.92 L725.00 325.90 L725.50 325.88 L726.00 325.87 L726.50 325.85 L727.00 325.84 L727.50 325.82 L728.00 325.80 L728.50 325.79 L729.00 325.77 L729.50 325.76 L730.00 325.74 L730.50 325.72 L730.79 325.71 M742.66 325.33 L743.00 325.32 L743.50 325.30 L744.00 325.29 L744.50 325.27 L745.00 325.25 L745.50 325.24 L746.00 325.22 L746.50 325.21 L747.00 325.19 L747.50 325.18 L748.00 325.16 L748.50 325.14 L749.00 325.13 L749.50 325.11 L750.00 325.10 L750.50 325.09 L751.00 325.07 L751.50 325.06 L752.00 325.04 L752.50 325.03 L753.00 325.02 L753.50 325.00 L754.00 324.99 L754.06 324.99 M765.93 324.69 L766.00 324.68 L766.50 324.67 L767.00 324.66 L767.50 324.65 L768.00 324.63 L768.50 324.62 L769.00 324.61 L769.50 324.59 L770.00 324.58 L770.50 324.57 L771.00 324.55 L771.50 324.54 L772.00 324.53 L772.50 324.51 L773.00 324.50 L773.50 324.49 L774.00 324.48 L774.50 324.46 L775.00 324.45 L775.50 324.44 L776.00 324.42 L776.50 324.41 L777.00 324.40 L777.33 324.39 M789.21 324.08 L789.51 324.07 L790.01 324.06 L790.52 324.05 L791.02 324.03 L791.53 324.02 L792.03 324.01 L792.54 323.99 L793.04 323.98 L793.54 323.97 L794.05 323.95 L794.55 323.94 L795.05 323.93 L795.56 323.91 L796.06 323.90 L796.55 323.89 L797.05 323.87 L797.55 323.86 L798.04 323.85 L798.53 323.84 L799.03 323.82 L799.51 323.81 L800.00 323.80 L800.53 323.79 L800.60 323.79 M812.48 323.51 L812.77 323.50 L813.28 323.49 L813.79 323.48 L814.30 323.47 L814.82 323.45 L815.33 323.44 L815.84 323.43 L816.35 323.42 L816.86 323.41 L817.37 323.39 L817.88 323.38 L818.39 323.37 L818.90 323.36 L819.41 323.35 L819.92 323.33 L820.43 323.32 L820.95 323.31 L821.46 323.30 L821.97 323.29 L822.48 323.27 L822.99 323.26 L823.50 323.25 L823.88 323.24 M835.75 322.96 L835.76 322.96 L836.27 322.95 L836.77 322.94 L837.28 322.93 L837.78 322.92 L838.28 322.90 L838.79 322.89 L839.29 322.88 L839.79 322.87 L840.29 322.86 L840.79 322.84 L841.30 322.83 L841.80 322.82 L842.31 322.81 L842.82 322.80 L843.33 322.79 L843.85 322.77 L844.36 322.76 L844.88 322.75 L845.41 322.74 L845.93 322.72 L846.46 322.71 L847.00 322.70 L847.15 322.70 M859.03 322.42 L859.08 322.42 L859.42 322.41 L859.73 322.41 L860.00 322.40" fill="none" stroke="#800080" stroke-width="2.1"/>
<path d="M100.00 504.60 L100.26 504.49 L100.53 504.38 M111.52 499.90 L111.73 499.82 L112.34 499.57 L113.00 499.30 L113.37 499.15 L113.75 498.99 L114.15 498.83 L114.57 498.66 L115.00 498.48 L115.44 498.30 L115.90 498.11 L116.36 497.92 L116.84 497.73 L117.32 497.53 L117.81 497.33 L118.31 497.12 L118.81 496.91 L119.32 496.71 L119.83 496.49 L120.35 496.28 L120.87 496.07 L121.39 495.86 L121.91 495.64 L122.07 495.58 M133.05 491.07 L133.12 491.04 L133.60 490.84 L134.08 490.64 L134.56 490.45 L135.04 490.25 L135.52 490.05 L136.00 489.86 L136.48 489.66 L136.96 489.46 L137.44 489.27 L137.92 489.07 L138.40 488.87 L138.88 488.68 L139.35 488.48 L139.83 488.28 L140.31 488.08 L140.79 487.89 L141.27 487.69 L141.75 487.49 L142.23 487.30 L142.71 487.10 L143.19 486.90 L143.60 486.74 M154.58 482.23 L154.69 482.18 L155.17 481.99 L155.65 481.79 L156.12 481.59 L156.60 481.39 L157.08 481.20 L157.56 481.00 L158.04 480.80 L158.52 480.61 L159.00 480.41 L159.48 480.21 L159.96 480.02 L160.44 479.82 L160.92 479.62 L161.40 479.43 L161.88 479.23 L162.35 479.03 L162.83 478.84 L163.31 478.64 L163.79 478.44 L164.27 478.25 L164.75 478.05 L165.12 477.90 M176.10 473.39 L176.25 473.33 L176.73 473.13 L177.21 472.93 L177.69 472.74 L178.17 472.54 L178.65 472.34 L179.12 472.15 L179.60 471.95 L180.08 471.75 L180.56 471.56 L181.04 471.36 L181.52 471.16 L182.00 470.97 L182.48 470.77 L182.96 470.57 L183.44 470.38 L183.92 470.18 L184.40 469.98 L184.88 469.79 L185.35 469.59 L185.83 469.39 L186.31 469.20 L186.65 469.06 M197.63 464.55 L197.81 464.47 L198.29 464.28 L198.77 464.08 L199.25 463.88 L199.73 463.69 L200.21 463.49 L200.69 463.29 L201.17 463.10 L201.65 462.90 L202.12 462.70 L202.60 462.51 L203.08 462.31 L203.56 462.11 L204.04 461.92 L204.52 461.72 L205.00 461.52 L205.48 461.33 L205.96 461.13 L206.44 460.93 L206.92 460.74 L207.40 460.54 L207.88 460.34 L208.17 460.22 M219.15 455.71 L219.38 455.62 L219.85 455.42 L220.33 455.23 L220.81 455.03 L221.29 454.83 L221.77 454.64 L222.25 454.44 L222.73 454.24 L223.21 454.05 L223.69 453.85 L224.17 453.65 L224.65 453.46 L225.12 453.26 L225.60 453.06 L226.08 452.86 L226.56 452.67 L227.04 452.47 L227.52 452.27 L228.00 452.08 L228.48 451.88 L228.96 451.68 L229.44 451.49 L229.70 451.38 M240.68 446.87 L240.94 446.77 L241.42 446.57 L241.90 446.37 L242.38 446.18 L242.85 445.98 L243.33 445.78 L243.81 445.58 L244.29 445.39 L244.77 445.19 L245.25 444.99 L245.73 444.80 L246.21 444.60 L246.69 444.40 L247.17 444.21 L247.65 444.01 L248.12 443.81 L248.60 443.62 L249.08 443.42 L249.56 443.22 L250.04 443.03 L250.52 442.83 L251.00 442.63 L251.23 442.54 M262.21 438.03 L262.50 437.91 L262.98 437.71 L263.46 437.52 L263.94 437.32 L264.42 437.12 L264.90 436.93 L265.38 436.73 L265.85 436.53 L266.33 436.34 L266.81 436.14 L267.29 435.94 L267.77 435.75 L268.25 435.55 L268.73 435.35 L269.21 435.16 L269.69 434.96 L270.17 434.76 L270.65 434.57 L271.12 434.37 L271.60 434.17 L272.08 433.98 L272.56 433.78 L272.75 433.70 M283.73 429.19 L284.06 429.06 L284.54 428.86 L285.02 428.66 L285.50 428.47 L285.98 428.27 L286.46 428.07 L286.94 427.88 L287.42 427.68 L287.90 427.48 L288.38 427.29 L288.85 427.09 L289.33 426.89 L289.81 426.70 L290.29 426.50 L290.77 426.30 L291.25 426.11 L291.73 425.91 L292.21 425.71 L292.69 425.52 L293.17 425.32 L293.65 425.12 L294.12 424.93 L294.28 424.86 M305.26 420.35 L305.62 420.20 L306.10 420.01 L306.58 419.81 L307.06 419.61 L307.54 419.42 L308.02 419.22 L308.50 419.02 L308.98 418.83 L309.46 418.63 L309.94 418.43 L310.42 418.23 L310.90 418.04 L311.38 417.84 L311.86 417.64 L312.34 417.45 L312.82 417.25 L313.30 417.05 L313.78 416.86 L314.26 416.66 L314.73 416.46 L315.21 416.27 L315.69 416.07 L315.80 416.02 M326.78 411.51 L327.15 411.37 L327.62 411.17 L328.10 410.97 L328.57 410.78 L329.05 410.58 L329.53 410.39 L330.00 410.19 L330.48 410.00 L330.95 409.80 L331.43 409.61 L331.90 409.41 L332.38 409.22 L332.86 409.02 L333.33 408.83 L333.81 408.63 L334.29 408.43 L334.76 408.24 L335.24 408.04 L335.71 407.85 L336.19 407.65 L336.67 407.46 L337.14 407.26 L337.33 407.19 M348.31 402.68 L348.57 402.57 L349.05 402.37 L349.52 402.18 L350.00 401.98 L350.48 401.79 L350.95 401.59 L351.43 401.40 L351.90 401.20 L352.38 401.01 L352.86 400.81 L353.33 400.61 L353.81 400.42 L354.29 400.22 L354.76 400.03 L355.24 399.83 L355.71 399.64 L356.19 399.44 L356.67 399.25 L357.14 399.05 L357.62 398.86 L358.10 398.66 L358.57 398.46 L358.86 398.35 M369.84 393.84 L370.00 393.77 L370.48 393.58 L370.95 393.38 L371.43 393.19 L371.90 392.99 L372.38 392.79 L372.86 392.60 L373.33 392.40 L373.81 392.21 L374.29 392.01 L374.76 391.82 L375.24 391.62 L375.71 391.43 L376.19 391.23 L376.67 391.04 L377.14 390.84 L377.62 390.64 L378.10 390.45 L378.57 390.25 L379.05 390.06 L379.52 389.86 L380.00 389.67 L380.38 389.51 M391.36 385.00 L391.43 384.97 L391.90 384.78 L392.38 384.58 L392.86 384.39 L393.33 384.19 L393.81 384.00 L394.29 383.80 L394.76 383.61 L395.24 383.41 L395.71 383.22 L396.19 383.02 L396.67 382.82 L397.14 382.63 L397.62 382.43 L398.10 382.24 L398.57 382.04 L399.05 381.85 L399.52 381.65 L400.00 381.46 L400.48 381.26 L400.95 381.06 L401.43 380.87 L401.90 380.67 L401.91 380.67 M412.89 376.16 L413.33 375.98 L413.81 375.79 L414.29 375.59 L414.76 375.39 L415.24 375.20 L415.71 375.00 L416.19 374.81 L416.67 374.61 L417.14 374.42 L417.62 374.22 L418.10 374.03 L418.57 373.83 L419.05 373.64 L419.52 373.44 L420.00 373.24 L420.48 373.05 L420.95 372.85 L421.43 372.66 L421.90 372.46 L422.38 372.27 L422.86 372.07 L423.33 371.88 L423.44 371.83 M434.42 367.33 L434.76 367.18 L435.24 366.99 L435.71 366.79 L436.19 366.60 L436.67 366.40 L437.14 366.21 L437.62 366.01 L438.10 365.82 L438.57 365.62 L439.05 365.42 L439.52 365.23 L440.00 365.03 L440.48 364.84 L440.95 364.64 L441.43 364.45 L441.90 364.25 L442.38 364.06 L442.86 363.86 L443.33 363.66 L443.81 363.47 L444.29 363.27 L444.76 363.08 L444.96 363.00 M455.94 358.49 L456.19 358.39 L456.67 358.19 L457.14 358.00 L457.62 357.80 L458.10 357.60 L458.57 357.41 L459.05 357.21 L459.52 357.02 L460.00 356.82 L460.48 356.63 L460.95 356.43 L461.43 356.24 L461.90 356.04 L462.38 355.84 L462.86 355.65 L463.33 355.45 L463.81 355.26 L464.29 355.06 L464.76 354.87 L465.24 354.67 L465.71 354.48 L466.19 354.28 L466.49 354.16 M477.47 349.65 L477.62 349.59 L478.10 349.39 L478.57 349.20 L479.05 349.00 L479.52 348.81 L480.00 348.61 L480.48 348.42 L480.95 348.22 L481.43 348.02 L481.90 347.83 L482.38 347.63 L482.86 347.44 L483.33 347.24 L483.81 347.05 L484.29 346.85 L484.76 346.66 L485.24 346.46 L485.71 346.27 L486.19 346.07 L486.67 345.87 L487.14 345.68 L487.62 345.48 L488.01 345.32 M499.00 340.81 L499.08 340.78 L499.54 340.59 L500.00 340.40 L500.49 340.20 L500.98 340.00 L501.47 339.80 L501.96 339.60 L502.44 339.40 L502.92 339.21 L503.40 339.01 L503.87 338.82 L504.35 338.62 L504.82 338.43 L505.29 338.24 L505.76 338.04 L506.23 337.85 L506.70 337.66 L507.17 337.47 L507.64 337.28 L508.11 337.09 L508.58 336.90 L509.05 336.70 L509.52 336.51 L509.55 336.50 M520.54 332.01 L520.90 331.86 L521.38 331.67 L521.85 331.48 L522.33 331.28 L522.80 331.09 L523.27 330.89 L523.75 330.70 L524.23 330.51 L524.70 330.31 L525.17 330.12 L525.65 329.92 L526.12 329.73 L526.60 329.54 L527.08 329.34 L527.55 329.15 L528.02 328.95 L528.50 328.76 L528.98 328.57 L529.45 328.37 L529.92 328.18 L530.40 327.98 L530.88 327.79 L531.09 327.70 M542.08 323.21 L542.54 323.02 L543.02 322.82 L543.50 322.63 L543.98 322.43 L544.45 322.24 L544.91 322.05 L545.37 321.87 L545.81 321.69 L546.25 321.51 L546.68 321.33 L547.09 321.16 L547.50 321.00 L548.07 320.77 L548.63 320.54 L549.16 320.33 L549.67 320.13 L550.16 319.93 L550.64 319.73 L551.10 319.55 L551.56 319.37 L552.01 319.19 L552.45 319.01 L552.64 318.93 M563.66 314.51 L563.70 314.50 L564.13 314.34 L564.57 314.18 L565.00 314.01 L565.45 313.85 L565.89 313.69 L566.34 313.53 L566.80 313.37 L567.26 313.20 L567.72 313.04 L568.19 312.87 L568.66 312.71 L569.14 312.54 L569.62 312.37 L570.10 312.19 L570.59 312.02 L571.08 311.84 L571.58 311.66 L572.08 311.48 L572.58 311.29 L573.09 311.10 L573.60 310.90 L574.04 310.73 L574.37 310.60 M585.38 306.17 L585.81 306.01 L586.32 305.82 L586.81 305.64 L587.30 305.47 L587.78 305.30 L588.26 305.13 L588.73 304.97 L589.20 304.81 L589.66 304.65 L590.12 304.50 L590.59 304.34 L591.05 304.18 L591.51 304.02 L591.98 303.86 L592.45 303.70 L592.93 303.53 L593.41 303.36 L593.89 303.18 L594.39 302.99 L594.89 302.80 L595.40 302.60 L595.84 302.42 L596.11 302.32 M607.00 297.60 L607.00 297.60 L607.51 297.39 L608.01 297.19 L608.50 297.00 L608.99 296.81 L609.46 296.62 L609.94 296.44 L610.40 296.26 L610.87 296.09 L611.33 295.91 L611.79 295.74 L612.25 295.57 L612.71 295.40 L613.17 295.23 L613.63 295.06 L614.09 294.89 L614.56 294.71 L615.04 294.54 L615.52 294.36 L616.00 294.18 L616.50 293.99 L617.00 293.80 L617.45 293.63 L617.66 293.55 M628.75 289.33 L628.81 289.31 L629.32 289.12 L629.81 288.94 L630.31 288.76 L630.80 288.58 L631.28 288.40 L631.77 288.22 L632.25 288.05 L632.73 287.87 L633.20 287.70 L633.68 287.53 L634.16 287.35 L634.64 287.18 L635.12 287.00 L635.61 286.82 L636.09 286.64 L636.58 286.46 L637.08 286.28 L637.58 286.09 L638.09 285.90 L638.60 285.70 L639.05 285.53 L639.44 285.38 M650.48 281.01 L650.49 281.01 L650.97 280.82 L651.45 280.63 L651.93 280.44 L652.40 280.26 L652.87 280.07 L653.33 279.89 L653.79 279.71 L654.25 279.53 L654.71 279.35 L655.17 279.17 L655.63 278.99 L656.08 278.81 L656.54 278.63 L657.00 278.46 L657.46 278.28 L657.93 278.10 L658.39 277.92 L658.86 277.74 L659.34 277.56 L659.82 277.38 L660.30 277.20 L660.77 277.03 L661.11 276.90 M672.28 272.88 L672.38 272.84 L672.86 272.67 L673.35 272.49 L673.83 272.31 L674.30 272.14 L674.78 271.96 L675.25 271.79 L675.73 271.61 L676.20 271.44 L676.68 271.26 L677.15 271.09 L677.62 270.91 L678.10 270.74 L678.58 270.56 L679.06 270.38 L679.54 270.20 L680.02 270.03 L680.51 269.85 L681.00 269.67 L681.50 269.48 L682.00 269.30 L682.46 269.13 L682.93 268.96 L682.98 268.94 M694.13 264.87 L694.49 264.74 L694.98 264.56 L695.46 264.39 L695.94 264.21 L696.41 264.04 L696.89 263.86 L697.36 263.69 L697.83 263.52 L698.30 263.35 L698.76 263.18 L699.23 263.01 L699.70 262.84 L700.16 262.67 L700.63 262.50 L701.11 262.33 L701.58 262.16 L702.06 261.99 L702.54 261.82 L703.02 261.65 L703.51 261.47 L704.00 261.30 L704.48 261.13 L704.85 261.00 M716.07 257.13 L716.29 257.05 L716.78 256.87 L717.27 256.69 L717.76 256.52 L718.25 256.34 L718.73 256.17 L719.21 255.99 L719.69 255.81 L720.17 255.64 L720.65 255.46 L721.13 255.29 L721.61 255.11 L722.09 254.93 L722.57 254.76 L723.05 254.58 L723.54 254.40 L724.03 254.22 L724.52 254.04 L725.01 253.86 L725.50 253.68 L726.00 253.50 L726.46 253.33 L726.78 253.22 M737.94 249.17 L738.29 249.04 L738.79 248.86 L739.28 248.68 L739.76 248.50 L740.25 248.32 L740.74 248.14 L741.22 247.96 L741.70 247.79 L742.18 247.61 L742.66 247.43 L743.14 247.25 L743.62 247.08 L744.10 246.90 L744.59 246.73 L745.07 246.55 L745.55 246.38 L746.04 246.20 L746.53 246.03 L747.01 245.85 L747.51 245.68 L748.00 245.50 L748.47 245.33 L748.65 245.27 M759.89 241.44 L760.09 241.37 L760.58 241.21 L761.07 241.04 L761.56 240.88 L762.05 240.72 L762.54 240.56 L763.02 240.40 L763.51 240.24 L764.00 240.08 L764.48 239.92 L764.97 239.76 L765.45 239.60 L765.94 239.45 L766.43 239.29 L766.92 239.13 L767.41 238.98 L767.90 238.82 L768.40 238.66 L768.90 238.51 L769.40 238.35 L769.90 238.20 L770.38 238.05 L770.74 237.94 M782.15 234.67 L782.29 234.63 L782.78 234.49 L783.27 234.36 L783.76 234.22 L784.25 234.09 L784.74 233.95 L785.23 233.82 L785.72 233.69 L786.20 233.55 L786.69 233.42 L787.18 233.29 L787.67 233.16 L788.16 233.03 L788.65 232.90 L789.14 232.77 L789.63 232.65 L790.13 232.52 L790.62 232.39 L791.11 232.27 L791.61 232.15 L792.10 232.02 L792.60 231.90 L793.10 231.78 L793.17 231.76 M804.76 229.20 L805.27 229.12 L805.81 229.03 L806.36 228.95 L806.91 228.87 L807.46 228.79 L808.01 228.71 L808.55 228.64 L809.10 228.57 L809.63 228.50 L810.16 228.44 L810.69 228.38 L811.20 228.32 L811.70 228.27 L812.19 228.22 L812.67 228.17 L813.13 228.13 L813.58 228.09 L814.01 228.06 L814.41 228.03 L814.80 228.00 L815.30 227.98" fill="none" stroke="#ff0000" stroke-width="2.1"/>
<path d="M826.80 231.30 L826.97 231.57 L827.19 231.91 L827.46 232.33 L827.75 232.79 L828.06 233.29 L828.36 233.80 L828.65 234.31 L828.90 234.80 L829.12 235.28 L829.33 235.77 L829.53 236.28 L829.73 236.79 L829.91 237.31 L830.10 237.83 L830.30 238.36 L830.50 238.90 L830.69 239.41 L830.90 239.96 L831.12 240.54 L831.34 241.12 L831.56 241.69 L831.76 242.22 L831.93 242.69 L832.09 243.10 L832.20 243.40 L832.20 243.40 L832.25 243.11 L832.30 242.77 L832.36 242.39 L832.42 241.95 L832.49 241.48 L832.56 240.98 L832.64 240.45 L832.72 239.89 L832.81 239.31 L832.90 238.72 L832.99 238.12 L833.09 237.51 L833.19 236.91 L833.29 236.31 L833.39 235.72 L833.49 235.15 L833.59 234.59 L833.69 234.06 L833.80 233.56 L833.90 233.10 L834.04 232.51 L834.18 231.94 L834.32 231.37 L834.47 230.82 L834.61 230.28 L834.77 229.75 L834.92 229.24 L835.08 228.74 L835.24 228.25 L835.41 227.77 L835.58 227.31 L835.75 226.86 L835.93 226.43 L836.11 226.01 L836.30 225.60 L836.56 225.08 L836.83 224.59 L837.11 224.13 L837.40 223.71 L837.69 223.31 L837.99 222.92 L838.30 222.55 L838.61 222.19 L838.93 221.83 L839.26 221.47 L839.60 221.10 L839.95 220.73 L840.32 220.36 L840.70 220.00 L841.10 219.65 L841.50 219.30 L841.90 218.96 L842.30 218.62 L842.70 218.30 L843.08 217.99 L843.45 217.69 L843.80 217.40 L844.24 217.04 L844.65 216.71 L845.03 216.41 L845.41 216.13 L845.78 215.85 L846.18 215.56 L846.62 215.25 L847.10 214.90 L847.50 214.61 L847.96 214.29 L848.45 213.95 L848.97 213.59 L849.50 213.22 L850.01 212.87 L850.51 212.52 L850.97 212.21 L851.39 211.92 L851.73 211.68 L852.00 211.50" fill="none" stroke="#ff0000" stroke-width="2.1" stroke-linejoin="round"/>
<path d="M105.37 499.81 L105.51 499.75 L106.02 499.55 L106.50 499.35 L106.95 499.17 L107.37 498.99 L107.78 498.83 L108.17 498.67 L108.56 498.51 L108.95 498.35 L109.35 498.19 L109.76 498.02 L110.20 497.84 L110.67 497.65 L111.18 497.44 L111.73 497.22 L112.34 496.97 L113.00 496.70 L113.37 496.55 L113.75 496.39 L114.15 496.23 L114.57 496.06 L115.00 495.88 L115.44 495.70 L115.90 495.51 L116.36 495.32 L116.84 495.13 L117.32 494.93 L117.68 494.78 M126.86 491.01 L126.90 490.99 L127.38 490.80 L127.85 490.60 L128.33 490.40 L128.81 490.21 L129.29 490.01 L129.77 489.81 L130.25 489.62 L130.73 489.42 L131.21 489.22 L131.69 489.03 L132.17 488.83 L132.65 488.63 L133.12 488.44 L133.60 488.24 L134.08 488.04 L134.56 487.85 L135.04 487.65 L135.52 487.45 L136.00 487.26 L136.48 487.06 L136.96 486.86 L137.44 486.67 L137.92 486.47 L138.40 486.27 L138.88 486.07 L139.16 485.96 M148.34 482.19 L148.46 482.14 L148.94 481.94 L149.42 481.75 L149.90 481.55 L150.38 481.35 L150.85 481.16 L151.33 480.96 L151.81 480.76 L152.29 480.57 L152.77 480.37 L153.25 480.17 L153.73 479.98 L154.21 479.78 L154.69 479.58 L155.17 479.39 L155.65 479.19 L156.12 478.99 L156.60 478.79 L157.08 478.60 L157.56 478.40 L158.04 478.20 L158.52 478.01 L159.00 477.81 L159.48 477.61 L159.96 477.42 L160.44 477.22 L160.64 477.14 M169.82 473.37 L170.02 473.29 L170.50 473.09 L170.98 472.89 L171.46 472.70 L171.94 472.50 L172.42 472.30 L172.90 472.11 L173.38 471.91 L173.85 471.71 L174.33 471.51 L174.81 471.32 L175.29 471.12 L175.77 470.92 L176.25 470.73 L176.73 470.53 L177.21 470.33 L177.69 470.14 L178.17 469.94 L178.65 469.74 L179.12 469.55 L179.60 469.35 L180.08 469.15 L180.56 468.96 L181.04 468.76 L181.52 468.56 L182.00 468.37 L182.12 468.32 M191.29 464.55 L191.58 464.43 L192.06 464.23 L192.54 464.04 L193.02 463.84 L193.50 463.64 L193.98 463.45 L194.46 463.25 L194.94 463.05 L195.42 462.86 L195.90 462.66 L196.38 462.46 L196.85 462.27 L197.33 462.07 L197.81 461.87 L198.29 461.68 L198.77 461.48 L199.25 461.28 L199.73 461.09 L200.21 460.89 L200.69 460.69 L201.17 460.50 L201.65 460.30 L202.12 460.10 L202.60 459.91 L203.08 459.71 L203.56 459.51 L203.60 459.50 M212.77 455.73 L213.15 455.58 L213.62 455.38 L214.10 455.18 L214.58 454.99 L215.06 454.79 L215.54 454.59 L216.02 454.40 L216.50 454.20 L216.98 454.00 L217.46 453.81 L217.94 453.61 L218.42 453.41 L218.90 453.22 L219.38 453.02 L219.85 452.82 L220.33 452.63 L220.81 452.43 L221.29 452.23 L221.77 452.04 L222.25 451.84 L222.73 451.64 L223.21 451.45 L223.69 451.25 L224.17 451.05 L224.65 450.86 L225.08 450.68 M234.25 446.91 L234.71 446.72 L235.19 446.53 L235.67 446.33 L236.15 446.13 L236.62 445.94 L237.10 445.74 L237.58 445.54 L238.06 445.35 L238.54 445.15 L239.02 444.95 L239.50 444.76 L239.98 444.56 L240.46 444.36 L240.94 444.17 L241.42 443.97 L241.90 443.77 L242.38 443.57 L242.85 443.38 L243.33 443.18 L243.81 442.98 L244.29 442.79 L244.77 442.59 L245.25 442.39 L245.73 442.20 L246.21 442.00 L246.56 441.86 M255.73 438.09 L255.79 438.07 L256.27 437.87 L256.75 437.67 L257.23 437.48 L257.71 437.28 L258.19 437.08 L258.67 436.89 L259.15 436.69 L259.62 436.49 L260.10 436.29 L260.58 436.10 L261.06 435.90 L261.54 435.70 L262.02 435.51 L262.50 435.31 L262.98 435.11 L263.46 434.92 L263.94 434.72 L264.42 434.52 L264.90 434.33 L265.38 434.13 L265.85 433.93 L266.33 433.74 L266.81 433.54 L267.29 433.34 L267.77 433.15 L268.04 433.04 M277.21 429.27 L277.35 429.21 L277.83 429.01 L278.31 428.82 L278.79 428.62 L279.27 428.42 L279.75 428.23 L280.23 428.03 L280.71 427.83 L281.19 427.64 L281.67 427.44 L282.15 427.24 L282.62 427.05 L283.10 426.85 L283.58 426.65 L284.06 426.46 L284.54 426.26 L285.02 426.06 L285.50 425.87 L285.98 425.67 L286.46 425.47 L286.94 425.28 L287.42 425.08 L287.90 424.88 L288.38 424.69 L288.85 424.49 L289.33 424.29 L289.52 424.22 M298.69 420.45 L298.92 420.36 L299.40 420.16 L299.88 419.96 L300.35 419.77 L300.83 419.57 L301.31 419.37 L301.79 419.18 L302.27 418.98 L302.75 418.78 L303.23 418.59 L303.71 418.39 L304.19 418.19 L304.67 418.00 L305.15 417.80 L305.62 417.60 L306.10 417.41 L306.58 417.21 L307.06 417.01 L307.54 416.82 L308.02 416.62 L308.50 416.42 L308.98 416.22 L309.47 416.03 L309.95 415.83 L310.43 415.63 L310.91 415.43 L311.00 415.40 M320.17 411.63 L320.49 411.50 L320.97 411.30 L321.46 411.10 L321.94 410.90 L322.42 410.70 L322.90 410.51 L323.38 410.31 L323.86 410.11 L324.34 409.92 L324.81 409.72 L325.29 409.52 L325.77 409.33 L326.24 409.13 L326.72 408.94 L327.19 408.74 L327.66 408.55 L328.14 408.35 L328.61 408.16 L329.09 407.96 L329.56 407.77 L330.04 407.57 L330.51 407.38 L330.99 407.18 L331.46 406.98 L331.94 406.79 L332.42 406.59 L332.47 406.57 M341.65 402.79 L341.97 402.66 L342.44 402.47 L342.92 402.27 L343.40 402.07 L343.88 401.88 L344.35 401.68 L344.83 401.48 L345.31 401.29 L345.79 401.09 L346.26 400.90 L346.74 400.70 L347.22 400.50 L347.70 400.31 L348.17 400.11 L348.65 399.91 L349.13 399.72 L349.61 399.52 L350.08 399.32 L350.56 399.13 L351.04 398.93 L351.52 398.73 L351.99 398.54 L352.47 398.34 L352.95 398.14 L353.43 397.95 L353.90 397.75 L353.95 397.73 M363.12 393.96 L363.45 393.82 L363.93 393.63 L364.41 393.43 L364.89 393.23 L365.36 393.04 L365.84 392.84 L366.32 392.64 L366.80 392.45 L367.27 392.25 L367.75 392.06 L368.23 391.86 L368.71 391.66 L369.18 391.47 L369.66 391.27 L370.14 391.07 L370.62 390.88 L371.09 390.68 L371.57 390.48 L372.05 390.29 L372.53 390.09 L373.00 389.89 L373.48 389.70 L373.96 389.50 L374.44 389.30 L374.91 389.11 L375.39 388.91 L375.42 388.90 M384.59 385.13 L384.94 384.98 L385.42 384.79 L385.90 384.59 L386.37 384.39 L386.85 384.20 L387.33 384.00 L387.81 383.80 L388.28 383.61 L388.76 383.41 L389.24 383.21 L389.72 383.02 L390.19 382.82 L390.67 382.63 L391.15 382.43 L391.63 382.23 L392.10 382.04 L392.58 381.84 L393.06 381.64 L393.54 381.45 L394.01 381.25 L394.49 381.05 L394.97 380.86 L395.45 380.66 L395.92 380.46 L396.40 380.27 L396.88 380.07 L396.89 380.07 M406.07 376.29 L406.43 376.14 L406.91 375.95 L407.39 375.75 L407.86 375.55 L408.34 375.36 L408.82 375.16 L409.30 374.96 L409.77 374.77 L410.25 374.57 L410.73 374.37 L411.21 374.18 L411.68 373.98 L412.16 373.79 L412.64 373.59 L413.12 373.39 L413.59 373.20 L414.07 373.00 L414.55 372.80 L415.03 372.61 L415.50 372.41 L415.98 372.21 L416.46 372.02 L416.94 371.82 L417.41 371.62 L417.89 371.43 L418.37 371.23 M427.54 367.46 L427.92 367.30 L428.40 367.11 L428.87 366.91 L429.35 366.71 L429.83 366.52 L430.31 366.32 L430.78 366.12 L431.26 365.93 L431.74 365.73 L432.22 365.53 L432.69 365.34 L433.17 365.14 L433.65 364.94 L434.13 364.75 L434.60 364.55 L435.08 364.36 L435.56 364.16 L436.04 363.96 L436.51 363.77 L436.99 363.57 L437.47 363.37 L437.95 363.18 L438.42 362.98 L438.90 362.78 L439.38 362.59 L439.84 362.40 M449.01 358.62 L449.41 358.46 L449.88 358.27 L450.36 358.07 L450.84 357.87 L451.32 357.68 L451.79 357.48 L452.27 357.28 L452.75 357.09 L453.23 356.89 L453.70 356.69 L454.18 356.50 L454.66 356.30 L455.14 356.10 L455.61 355.91 L456.09 355.71 L456.57 355.52 L457.05 355.32 L457.52 355.12 L458.00 354.93 L458.48 354.73 L458.96 354.53 L459.43 354.34 L459.91 354.14 L460.39 353.94 L460.87 353.75 L461.31 353.56 M470.49 349.79 L470.91 349.61 L471.40 349.41 L471.89 349.21 L472.38 349.01 L472.86 348.81 L473.35 348.61 L473.84 348.41 L474.33 348.21 L474.82 348.00 L475.31 347.80 L475.79 347.60 L476.28 347.40 L476.76 347.21 L477.24 347.01 L477.71 346.81 L478.19 346.62 L478.66 346.42 L479.13 346.23 L479.59 346.04 L480.05 345.85 L480.50 345.67 L480.95 345.48 L481.40 345.30 L481.92 345.09 L482.43 344.88 L482.79 344.73 M491.98 341.01 L492.00 341.00 L492.47 340.82 L492.94 340.64 L493.42 340.45 L493.89 340.27 L494.37 340.09 L494.85 339.91 L495.33 339.73 L495.81 339.55 L496.29 339.37 L496.77 339.19 L497.25 339.01 L497.73 338.84 L498.22 338.66 L498.70 338.48 L499.18 338.30 L499.66 338.13 L500.14 337.95 L500.62 337.77 L501.10 337.60 L501.58 337.42 L502.05 337.25 L502.53 337.07 L503.00 336.90 L503.49 336.72 L503.98 336.54 L504.45 336.37 M513.77 332.98 L514.16 332.84 L514.63 332.68 L515.10 332.52 L515.57 332.36 L516.04 332.20 L516.52 332.04 L517.00 331.88 L517.48 331.73 L517.96 331.57 L518.44 331.41 L518.92 331.25 L519.41 331.09 L519.89 330.94 L520.37 330.78 L520.85 330.62 L521.33 330.46 L521.81 330.31 L522.29 330.15 L522.77 329.99 L523.24 329.83 L523.71 329.67 L524.18 329.52 L524.64 329.36 L525.10 329.20 L525.60 329.03 L526.09 328.86 L526.38 328.76 M535.71 325.39 L536.15 325.22 L536.61 325.05 L537.08 324.87 L537.56 324.68 L538.04 324.50 L538.53 324.32 L539.02 324.13 L539.52 323.94 L540.01 323.75 L540.51 323.56 L541.01 323.36 L541.51 323.17 L542.00 322.97 L542.50 322.77 L542.99 322.57 L543.48 322.36 L543.96 322.15 L544.43 321.94 L544.90 321.73 L545.36 321.52 L545.81 321.30 L546.25 321.08 L546.68 320.85 L547.10 320.63 L547.50 320.40 L547.92 320.15 M555.60 313.90 L555.99 313.61 L556.39 313.33 L556.80 313.03 L557.22 312.74 L557.65 312.44 L558.08 312.14 L558.53 311.84 L558.97 311.54 L559.43 311.24 L559.88 310.93 L560.33 310.63 L560.79 310.32 L561.24 310.02 L561.69 309.72 L562.14 309.42 L562.58 309.11 L563.02 308.82 L563.45 308.52 L563.87 308.22 L564.28 307.93 L564.68 307.64 L565.07 307.36 L565.44 307.08 L565.80 306.80 L566.26 306.44 L566.48 306.26 M573.75 299.50 L573.86 299.40 L574.20 299.06 L574.54 298.73 L574.89 298.39 L575.24 298.05 L575.58 297.70 L575.94 297.36 L576.29 297.01 L576.65 296.65 L577.00 296.29 L577.37 295.93 L577.73 295.57 L578.10 295.20 L578.47 294.83 L578.85 294.45 L579.23 294.07 L579.61 293.69 L580.00 293.30 L580.33 292.97 L580.67 292.63 L581.01 292.29 L581.35 291.94 L581.70 291.59 L582.05 291.23 L582.40 290.87 L582.76 290.51 L583.12 290.14 L583.16 290.10 M590.15 283.07 L590.40 282.84 L590.77 282.48 L591.14 282.12 L591.50 281.77 L591.87 281.42 L592.24 281.07 L592.61 280.72 L592.97 280.37 L593.34 280.02 L593.70 279.67 L594.06 279.33 L594.43 278.98 L594.79 278.64 L595.16 278.29 L595.52 277.94 L595.89 277.60 L596.25 277.25 L596.62 276.90 L596.98 276.55 L597.35 276.20 L597.72 275.85 L598.08 275.49 L598.45 275.14 L598.82 274.79 L599.19 274.43 L599.55 274.08 L599.76 273.88 M606.94 267.03 L607.28 266.72 L607.65 266.38 L608.02 266.03 L608.39 265.69 L608.77 265.35 L609.14 265.01 L609.51 264.67 L609.88 264.33 L610.25 263.99 L610.63 263.65 L611.00 263.31 L611.37 262.97 L611.74 262.63 L612.12 262.29 L612.49 261.95 L612.86 261.61 L613.23 261.27 L613.61 260.93 L613.98 260.59 L614.35 260.25 L614.72 259.91 L615.09 259.57 L615.46 259.22 L615.83 258.88 L616.20 258.54 L616.57 258.20 L616.74 258.04 M624.07 251.36 L624.42 251.05 L624.80 250.72 L625.19 250.38 L625.57 250.05 L625.96 249.71 L626.34 249.38 L626.73 249.04 L627.11 248.71 L627.50 248.37 L627.89 248.04 L628.27 247.71 L628.66 247.37 L629.05 247.04 L629.43 246.70 L629.82 246.37 L630.21 246.04 L630.59 245.70 L630.98 245.37 L631.36 245.03 L631.75 244.70 L632.13 244.37 L632.52 244.03 L632.91 243.69 L633.29 243.36 L633.68 243.02 L634.06 242.69 L634.12 242.64 M641.60 236.13 L641.74 236.01 L642.12 235.68 L642.50 235.35 L642.88 235.02 L643.26 234.69 L643.64 234.36 L644.02 234.03 L644.39 233.71 L644.77 233.38 L645.15 233.05 L645.53 232.72 L645.90 232.40 L646.28 232.07 L646.66 231.74 L647.03 231.42 L647.41 231.09 L647.79 230.76 L648.17 230.43 L648.54 230.11 L648.92 229.78 L649.30 229.45 L649.68 229.12 L650.06 228.79 L650.43 228.47 L650.81 228.14 L651.19 227.81 L651.57 227.48 L651.65 227.41 M659.14 220.92 L659.15 220.92 L659.53 220.59 L659.91 220.26 L660.30 219.93 L660.68 219.60 L661.07 219.27 L661.45 218.95 L661.84 218.62 L662.22 218.29 L662.61 217.96 L662.99 217.63 L663.38 217.30 L663.77 216.98 L664.15 216.65 L664.54 216.32 L664.92 215.99 L665.31 215.66 L665.69 215.33 L666.08 215.01 L666.47 214.68 L666.85 214.35 L667.23 214.02 L667.62 213.69 L668.00 213.37 L668.39 213.04 L668.77 212.71 L669.16 212.38 L669.27 212.29 M676.81 205.85 L676.85 205.81 L677.23 205.48 L677.62 205.15 L678.00 204.82 L678.38 204.49 L678.76 204.16 L679.15 203.83 L679.53 203.50 L679.91 203.17 L680.29 202.84 L680.68 202.51 L681.06 202.18 L681.44 201.85 L681.82 201.51 L682.21 201.18 L682.59 200.85 L682.97 200.52 L683.35 200.19 L683.73 199.86 L684.12 199.53 L684.50 199.20 L684.88 198.87 L685.26 198.54 L685.65 198.21 L686.03 197.88 L686.41 197.55 L686.79 197.22 L686.87 197.15 M694.38 190.67 L694.46 190.60 L694.85 190.27 L695.24 189.94 L695.62 189.61 L696.01 189.28 L696.40 188.94 L696.79 188.61 L697.18 188.28 L697.57 187.94 L697.96 187.61 L698.35 187.28 L698.74 186.95 L699.13 186.61 L699.52 186.28 L699.91 185.95 L700.30 185.61 L700.69 185.28 L701.08 184.95 L701.47 184.62 L701.86 184.28 L702.25 183.95 L702.64 183.62 L703.03 183.28 L703.42 182.95 L703.81 182.62 L704.20 182.29 L704.50 182.03 M712.04 175.58 L712.36 175.31 L712.75 174.98 L713.13 174.64 L713.52 174.31 L713.90 173.98 L714.29 173.65 L714.67 173.32 L715.05 172.99 L715.44 172.66 L715.82 172.33 L716.21 172.00 L716.59 171.67 L716.98 171.34 L717.36 171.01 L717.74 170.68 L718.13 170.35 L718.51 170.02 L718.90 169.69 L719.28 169.36 L719.67 169.03 L720.05 168.70 L720.43 168.37 L720.82 168.04 L721.20 167.71 L721.59 167.38 L721.97 167.05 L722.12 166.92 M729.65 160.46 L729.67 160.44 L730.05 160.12 L730.43 159.79 L730.82 159.46 L731.20 159.14 L731.58 158.81 L731.96 158.48 L732.35 158.16 L732.73 157.83 L733.11 157.51 L733.49 157.18 L733.88 156.86 L734.26 156.53 L734.64 156.20 L735.02 155.88 L735.41 155.55 L735.79 155.23 L736.17 154.90 L736.55 154.58 L736.93 154.25 L737.32 153.93 L737.70 153.60 L738.08 153.27 L738.47 152.95 L738.85 152.62 L739.23 152.29 L739.61 151.96 L739.77 151.83 M747.33 145.41 L747.70 145.10 L748.11 144.77 L748.51 144.44 L748.91 144.10 L749.31 143.77 L749.71 143.45 L750.12 143.12 L750.52 142.79 L750.92 142.46 L751.32 142.13 L751.73 141.80 L752.13 141.48 L752.53 141.15 L752.94 140.82 L753.34 140.49 L753.74 140.16 L754.14 139.84 L754.55 139.51 L754.95 139.18 L755.35 138.85 L755.75 138.52 L756.15 138.19 L756.56 137.86 L756.96 137.53 L757.36 137.21 L757.63 136.99 M765.30 130.70 L765.37 130.64 L765.76 130.32 L766.15 130.00 L766.54 129.68 L766.93 129.36 L767.32 129.04 L767.71 128.72 L768.10 128.39 L768.49 128.07 L768.89 127.75 L769.28 127.43 L769.67 127.10 L770.06 126.78 L770.46 126.46 L770.85 126.13 L771.24 125.81 L771.63 125.49 L772.02 125.17 L772.42 124.84 L772.81 124.52 L773.20 124.20 L773.59 123.88 L773.98 123.56 L774.37 123.24 L774.77 122.91 L775.16 122.59 L775.55 122.27 L775.57 122.25 M783.23 115.95 L783.37 115.83 L783.76 115.51 L784.15 115.18 L784.54 114.86 L784.93 114.54 L785.32 114.21 L785.71 113.89 L786.09 113.56 L786.48 113.24 L786.87 112.92 L787.26 112.59 L787.65 112.27 L788.04 111.94 L788.43 111.62 L788.82 111.29 L789.21 110.97 L789.59 110.65 L789.98 110.32 L790.37 110.00 L790.76 109.67 L791.15 109.35 L791.54 109.03 L791.93 108.70 L792.32 108.38 L792.71 108.05 L793.10 107.73 L793.45 107.43 M801.08 101.09 L801.27 100.93 L801.66 100.60 L802.05 100.28 L802.43 99.96 L802.82 99.63 L803.21 99.31 L803.60 98.98 L803.99 98.66 L804.38 98.34 L804.77 98.01 L805.16 97.69 L805.55 97.37 L805.94 97.04 L806.33 96.72 L806.72 96.39 L807.10 96.07 L807.49 95.75 L807.88 95.42 L808.27 95.10 L808.66 94.77 L809.05 94.45 L809.44 94.13 L809.83 93.80 L810.22 93.48 L810.60 93.16 L810.99 92.83 L811.30 92.58 M818.92 86.23 L819.18 86.02 L819.57 85.69 L819.97 85.37 L820.36 85.04 L820.76 84.71 L821.15 84.38 L821.55 84.05 L821.95 83.72 L822.34 83.40 L822.74 83.07 L823.14 82.74 L823.53 82.41 L823.93 82.08 L824.33 81.75 L824.72 81.42 L825.12 81.09 L825.52 80.76 L825.91 80.44 L826.31 80.11 L826.70 79.78 L827.10 79.45 L827.50 79.12 L827.90 78.78 L828.31 78.44 L828.73 78.10 L829.14 77.76 L829.16 77.74 M836.79 71.40 L837.19 71.07 L837.64 70.69 L838.07 70.33 L838.47 69.98 L838.86 69.65 L839.24 69.33 L839.61 69.01 L839.97 68.70 L840.34 68.39 L840.70 68.08 L841.07 67.76 L841.45 67.44 L841.85 67.10 L842.25 66.76 L842.65 66.42 L843.05 66.08 L843.45 65.74 L843.84 65.41 L844.24 65.07 L844.64 64.73 L845.04 64.39 L845.44 64.05 L845.84 63.71 L846.25 63.36 L846.66 63.01 L846.92 62.79 M854.49 56.37 L854.57 56.30 L855.01 55.93 L855.46 55.55 L855.91 55.17 L856.37 54.78 L856.82 54.40 L857.27 54.02 L857.70 53.65 L858.11 53.30 L858.51 52.96 L858.88 52.65 L859.21 52.37 L859.52 52.11 L859.78 51.89 L860.00 51.70" fill="none" stroke="#000000" stroke-width="3.7"/>
</g>
<line x1="112.75" y1="499.60" x2="112.75" y2="490.20" stroke="#000" stroke-width="1.9"/>
<line x1="112.75" y1="45.80" x2="112.75" y2="55.20" stroke="#000" stroke-width="1.9"/>
<line x1="186.18" y1="499.60" x2="186.18" y2="494.40" stroke="#000" stroke-width="1.55"/>
<line x1="186.18" y1="45.80" x2="186.18" y2="51.00" stroke="#000" stroke-width="1.55"/>
<line x1="259.60" y1="499.60" x2="259.60" y2="490.20" stroke="#000" stroke-width="1.9"/>
<line x1="259.60" y1="45.80" x2="259.60" y2="55.20" stroke="#000" stroke-width="1.9"/>
<line x1="333.02" y1="499.60" x2="333.02" y2="494.40" stroke="#000" stroke-width="1.55"/>
<line x1="333.02" y1="45.80" x2="333.02" y2="51.00" stroke="#000" stroke-width="1.55"/>
<line x1="406.45" y1="499.60" x2="406.45" y2="490.20" stroke="#000" stroke-width="1.9"/>
<line x1="406.45" y1="45.80" x2="406.45" y2="55.20" stroke="#000" stroke-width="1.9"/>
<line x1="479.88" y1="499.60" x2="479.88" y2="494.40" stroke="#000" stroke-width="1.55"/>
<line x1="479.88" y1="45.80" x2="479.88" y2="51.00" stroke="#000" stroke-width="1.55"/>
<line x1="553.30" y1="499.60" x2="553.30" y2="490.20" stroke="#000" stroke-width="1.9"/>
<line x1="553.30" y1="45.80" x2="553.30" y2="55.20" stroke="#000" stroke-width="1.9"/>
<line x1="626.73" y1="499.60" x2="626.73" y2="494.40" stroke="#000" stroke-width="1.55"/>
<line x1="626.73" y1="45.80" x2="626.73" y2="51.00" stroke="#000" stroke-width="1.55"/>
<line x1="700.15" y1="499.60" x2="700.15" y2="490.20" stroke="#000" stroke-width="1.9"/>
<line x1="700.15" y1="45.80" x2="700.15" y2="55.20" stroke="#000" stroke-width="1.9"/>
<line x1="773.57" y1="499.60" x2="773.57" y2="494.40" stroke="#000" stroke-width="1.55"/>
<line x1="773.57" y1="45.80" x2="773.57" y2="51.00" stroke="#000" stroke-width="1.55"/>
<line x1="847.00" y1="499.60" x2="847.00" y2="490.20" stroke="#000" stroke-width="1.9"/>
<line x1="847.00" y1="45.80" x2="847.00" y2="55.20" stroke="#000" stroke-width="1.9"/>
<line x1="112.75" y1="499.60" x2="122.15" y2="499.60" stroke="#000" stroke-width="1.9"/>
<line x1="847.00" y1="499.60" x2="837.60" y2="499.60" stroke="#000" stroke-width="1.9"/>
<line x1="112.75" y1="484.47" x2="117.95" y2="484.47" stroke="#000" stroke-width="1.55"/>
<line x1="847.00" y1="484.47" x2="841.80" y2="484.47" stroke="#000" stroke-width="1.55"/>
<line x1="112.75" y1="469.35" x2="117.95" y2="469.35" stroke="#000" stroke-width="1.55"/>
<line x1="847.00" y1="469.35" x2="841.80" y2="469.35" stroke="#000" stroke-width="1.55"/>
<line x1="112.75" y1="454.22" x2="117.95" y2="454.22" stroke="#000" stroke-width="1.55"/>
<line x1="847.00" y1="454.22" x2="841.80" y2="454.22" stroke="#000" stroke-width="1.55"/>
<line x1="112.75" y1="439.09" x2="117.95" y2="439.09" stroke="#000" stroke-width="1.55"/>
<line x1="847.00" y1="439.09" x2="841.80" y2="439.09" stroke="#000" stroke-width="1.55"/>
<line x1="112.75" y1="423.97" x2="117.95" y2="423.97" stroke="#000" stroke-width="1.55"/>
<line x1="847.00" y1="423.97" x2="841.80" y2="423.97" stroke="#000" stroke-width="1.55"/>
<line x1="112.75" y1="408.84" x2="117.95" y2="408.84" stroke="#000" stroke-width="1.55"/>
<line x1="847.00" y1="408.84" x2="841.80" y2="408.84" stroke="#000" stroke-width="1.55"/>
<line x1="112.75" y1="393.71" x2="117.95" y2="393.71" stroke="#000" stroke-width="1.55"/>
<line x1="847.00" y1="393.71" x2="841.80" y2="393.71" stroke="#000" stroke-width="1.55"/>
<line x1="112.75" y1="378.59" x2="117.95" y2="378.59" stroke="#000" stroke-width="1.55"/>
<line x1="847.00" y1="378.59" x2="841.80" y2="378.59" stroke="#000" stroke-width="1.55"/>
<line x1="112.75" y1="363.46" x2="117.95" y2="363.46" stroke="#000" stroke-width="1.55"/>
<line x1="847.00" y1="363.46" x2="841.80" y2="363.46" stroke="#000" stroke-width="1.55"/>
<line x1="112.75" y1="348.33" x2="122.15" y2="348.33" stroke="#000" stroke-width="1.9"/>
<line x1="847.00" y1="348.33" x2="837.60" y2="348.33" stroke="#000" stroke-width="1.9"/>
<line x1="112.75" y1="333.21" x2="117.95" y2="333.21" stroke="#000" stroke-width="1.55"/>
<line x1="847.00" y1="333.21" x2="841.80" y2="333.21" stroke="#000" stroke-width="1.55"/>
<line x1="112.75" y1="318.08" x2="117.95" y2="318.08" stroke="#000" stroke-width="1.55"/>
<line x1="847.00" y1="318.08" x2="841.80" y2="318.08" stroke="#000" stroke-width="1.55"/>
<line x1="112.75" y1="302.95" x2="117.95" y2="302.95" stroke="#000" stroke-width="1.55"/>
<line x1="847.00" y1="302.95" x2="841.80" y2="302.95" stroke="#000" stroke-width="1.55"/>
<line x1="112.75" y1="287.83" x2="117.95" y2="287.83" stroke="#000" stroke-width="1.55"/>
<line x1="847.00" y1="287.83" x2="841.80" y2="287.83" stroke="#000" stroke-width="1.55"/>
<line x1="112.75" y1="272.70" x2="117.95" y2="272.70" stroke="#000" stroke-width="1.55"/>
<line x1="847.00" y1="272.70" x2="841.80" y2="272.70" stroke="#000" stroke-width="1.55"/>
<line x1="112.75" y1="257.57" x2="117.95" y2="257.57" stroke="#000" stroke-width="1.55"/>
<line x1="847.00" y1="257.57" x2="841.80" y2="257.57" stroke="#000" stroke-width="1.55"/>
<line x1="112.75" y1="242.45" x2="117.95" y2="242.45" stroke="#000" stroke-width="1.55"/>
<line x1="847.00" y1="242.45" x2="841.80" y2="242.45" stroke="#000" stroke-width="1.55"/>
<line x1="112.75" y1="227.32" x2="117.95" y2="227.32" stroke="#000" stroke-width="1.55"/>
<line x1="847.00" y1="227.32" x2="841.80" y2="227.32" stroke="#000" stroke-width="1.55"/>
<line x1="112.75" y1="212.19" x2="117.95" y2="212.19" stroke="#000" stroke-width="1.55"/>
<line x1="847.00" y1="212.19" x2="841.80" y2="212.19" stroke="#000" stroke-width="1.55"/>
<line x1="112.75" y1="197.07" x2="122.15" y2="197.07" stroke="#000" stroke-width="1.9"/>
<line x1="847.00" y1="197.07" x2="837.60" y2="197.07" stroke="#000" stroke-width="1.9"/>
<line x1="112.75" y1="181.94" x2="117.95" y2="181.94" stroke="#000" stroke-width="1.55"/>
<line x1="847.00" y1="181.94" x2="841.80" y2="181.94" stroke="#000" stroke-width="1.55"/>
<line x1="112.75" y1="166.81" x2="117.95" y2="166.81" stroke="#000" stroke-width="1.55"/>
<line x1="847.00" y1="166.81" x2="841.80" y2="166.81" stroke="#000" stroke-width="1.55"/>
<line x1="112.75" y1="151.69" x2="117.95" y2="151.69" stroke="#000" stroke-width="1.55"/>
<line x1="847.00" y1="151.69" x2="841.80" y2="151.69" stroke="#000" stroke-width="1.55"/>
<line x1="112.75" y1="136.56" x2="117.95" y2="136.56" stroke="#000" stroke-width="1.55"/>
<line x1="847.00" y1="136.56" x2="841.80" y2="136.56" stroke="#000" stroke-width="1.55"/>
<line x1="112.75" y1="121.43" x2="117.95" y2="121.43" stroke="#000" stroke-width="1.55"/>
<line x1="847.00" y1="121.43" x2="841.80" y2="121.43" stroke="#000" stroke-width="1.55"/>
<line x1="112.75" y1="106.31" x2="117.95" y2="106.31" stroke="#000" stroke-width="1.55"/>
<line x1="847.00" y1="106.31" x2="841.80" y2="106.31" stroke="#000" stroke-width="1.55"/>
<line x1="112.75" y1="91.18" x2="117.95" y2="91.18" stroke="#000" stroke-width="1.55"/>
<line x1="847.00" y1="91.18" x2="841.80" y2="91.18" stroke="#000" stroke-width="1.55"/>
<line x1="112.75" y1="76.05" x2="117.95" y2="76.05" stroke="#000" stroke-width="1.55"/>
<line x1="847.00" y1="76.05" x2="841.80" y2="76.05" stroke="#000" stroke-width="1.55"/>
<line x1="112.75" y1="60.93" x2="117.95" y2="60.93" stroke="#000" stroke-width="1.55"/>
<line x1="847.00" y1="60.93" x2="841.80" y2="60.93" stroke="#000" stroke-width="1.55"/>
<line x1="112.75" y1="45.80" x2="122.15" y2="45.80" stroke="#000" stroke-width="1.9"/>
<line x1="847.00" y1="45.80" x2="837.60" y2="45.80" stroke="#000" stroke-width="1.9"/>
<rect x="112.75" y="45.8" width="734.25" height="453.80" fill="none" stroke="#000" stroke-width="2.15"/>
<text transform="translate(58.05 511.60) scale(1.0091 1)" font-size="28.80" fill="#000">10</text>
<text transform="translate(88.42 501.20) scale(0.9519 1)" font-size="20.40" fill="#000">40</text>
<text transform="translate(58.05 360.33) scale(1.0091 1)" font-size="28.80" fill="#000">10</text>
<text transform="translate(87.62 349.93) scale(0.9925 1)" font-size="20.40" fill="#000">50</text>
<text transform="translate(58.05 209.07) scale(1.0091 1)" font-size="28.80" fill="#000">10</text>
<text transform="translate(87.94 198.67) scale(0.9762 1)" font-size="20.40" fill="#000">60</text>
<text transform="translate(58.05 57.80) scale(1.0091 1)" font-size="28.80" fill="#000">10</text>
<text transform="translate(87.45 47.40) scale(1.0012 1)" font-size="20.40" fill="#000">70</text>
<text transform="translate(92.14 537.30) scale(1.0528 1)" font-size="28.80" fill="#000">10</text>
<text transform="translate(122.35 526.70) scale(0.9600 1)" font-size="20.40" fill="#000">8</text>
<text transform="translate(234.04 537.30) scale(1.0528 1)" font-size="28.80" fill="#000">10</text>
<text transform="translate(263.59 526.70) scale(1.0095 1)" font-size="20.40" fill="#000">10</text>
<text transform="translate(380.89 537.30) scale(1.0528 1)" font-size="28.80" fill="#000">10</text>
<text transform="translate(410.40 526.70) scale(1.0297 1)" font-size="20.40" fill="#000">12</text>
<text transform="translate(527.74 537.30) scale(1.0528 1)" font-size="28.80" fill="#000">10</text>
<text transform="translate(557.34 526.70) scale(0.9842 1)" font-size="20.40" fill="#000">14</text>
<text transform="translate(674.59 537.30) scale(1.0528 1)" font-size="28.80" fill="#000">10</text>
<text transform="translate(704.16 526.70) scale(1.0000 1)" font-size="20.40" fill="#000">16</text>
<text transform="translate(821.44 537.30) scale(1.0528 1)" font-size="28.80" fill="#000">10</text>
<text transform="translate(850.99 526.70) scale(1.0095 1)" font-size="20.40" fill="#000">18</text>
<text transform="translate(422.95 587.60) scale(1.1115 1)" font-size="36.00" font-style="italic" fill="#000">h</text>
<path d="M462.40 562.10 H458.00 V594.80 H462.40" fill="none" stroke="#000" stroke-width="1.4"/>
<text transform="translate(463.45 587.60) scale(0.8804 1)" font-size="37.40" fill="#000">G</text>
<text transform="translate(487.18 587.60) scale(0.9875 1)" font-size="34.20" fill="#000">e</text>
<text transform="translate(501.50 587.60) scale(0.9477 1)" font-size="37.40" fill="#000">V</text>
<path d="M528.30 562.10 H532.70 V594.80 H528.30" fill="none" stroke="#000" stroke-width="1.4"/>
<g transform="translate(32.5 0) rotate(-90)">
<text transform="translate(-344.38 0.00) scale(0.9637 1)" font-size="37.40" font-style="italic" fill="#000">V</text>
<text transform="translate(-324.49 5.90) scale(1.2125 1)" font-size="24.80" font-style="italic" fill="#000" stroke="#fff" stroke-width="0.22">h</text>
<path d="M-288.70 -25.60 H-293.20 V7.90 H-288.70" fill="none" stroke="#000" stroke-width="1.4"/>
<text transform="translate(-288.43 0.00) scale(0.8681 1)" font-size="37.40" fill="#000">G</text>
<text transform="translate(-263.06 0.00) scale(1.0191 1)" font-size="34.20" fill="#000">e</text>
<text transform="translate(-248.29 0.00) scale(0.9248 1)" font-size="37.40" fill="#000">V</text>
<text transform="translate(-221.50 -14.50) scale(0.8660 1)" font-size="23.60" fill="#000">4</text>
<path d="M-209.00 -25.60 H-205.10 V7.90 H-209.00" fill="none" stroke="#000" stroke-width="1.4"/>
</g>
<line x1="135.10" y1="84.80" x2="164.90" y2="84.80" stroke="#0000ff" stroke-width="2.1" stroke-linecap="butt"/>
<line x1="135.10" y1="127.40" x2="164.90" y2="127.40" stroke="#ff0000" stroke-width="2.1" stroke-linecap="butt"/>
<line x1="135.10" y1="170.70" x2="164.90" y2="170.70" stroke="#800080" stroke-width="2.1" stroke-linecap="butt"/>
<line x1="135.10" y1="212.40" x2="164.90" y2="212.40" stroke="#00ffff" stroke-width="2.1" stroke-linecap="butt"/>
<line x1="135.10" y1="252.80" x2="164.90" y2="252.80" stroke="#000000" stroke-width="3.8000000000000003" stroke-linecap="butt"/>
<text transform="translate(181.35 80.80) scale(0.8076 1)" font-size="20.40" fill="#000">1</text>
<line x1="180.30" y1="84.10" x2="192.00" y2="84.10" stroke="#000" stroke-width="1.0" stroke-linecap="butt"/>
<text transform="translate(180.77 101.30) scale(1.0862 1)" font-size="20.40" fill="#000">4</text>
<text transform="translate(196.78 91.40) scale(1.0777 1)" font-size="29.60" font-style="italic" fill="#000">λ</text>
<text transform="translate(213.70 91.53) scale(0.7742 1)" font-size="32.19" fill="#000">(</text>
<text transform="translate(223.83 91.40) scale(1.1014 1)" font-size="28.80" font-style="italic" fill="#000">μ</text>
<text transform="translate(240.78 91.53) scale(0.7863 1)" font-size="32.19" fill="#000">)</text>
<text transform="translate(251.22 91.40) scale(1.1076 1)" font-size="29.50" font-style="italic" fill="#000">h</text>
<text transform="translate(267.83 80.40) scale(0.9280 1)" font-size="20.40" fill="#000">4</text>
<line x1="180.30" y1="126.70" x2="198.70" y2="126.70" stroke="#000" stroke-width="1.25" stroke-linecap="butt"/>
<text transform="translate(200.98 134.20) scale(0.9834 1)" font-size="28.80" fill="#000">6</text>
<text transform="translate(214.51 134.20) scale(1.1140 1)" font-size="28.51" font-style="italic" fill="#000">ξ</text>
<text transform="translate(230.79 134.43) scale(0.8589 1)" font-size="32.19" fill="#000">(</text>
<text transform="translate(241.33 134.20) scale(1.1014 1)" font-size="28.80" font-style="italic" fill="#000">μ</text>
<text transform="translate(258.02 134.43) scale(0.8468 1)" font-size="32.19" fill="#000">)</text>
<text transform="translate(270.55 134.20) scale(1.0657 1)" font-size="30.40" font-style="italic" fill="#000">H</text>
<text transform="translate(295.68 122.40) scale(1.0746 1)" font-size="19.50" fill="#000">2</text>
<text transform="translate(307.18 134.20) scale(1.1477 1)" font-size="29.50" font-style="italic" fill="#000" stroke="#fff" stroke-width="0.22">h</text>
<text transform="translate(324.12 122.40) scale(1.1385 1)" font-size="19.50" fill="#000" stroke="#fff" stroke-width="0.08">2</text>
<path d="M190.30 152.30 H184.60 V185.90 H190.30" fill="none" stroke="#000" stroke-width="1.4"/>
<text transform="translate(190.29 177.20) scale(1.0653 1)" font-size="28.80" font-style="italic" fill="#000">α</text>
<text transform="translate(211.71 178.37) scale(0.8175 1)" font-size="38.58" fill="#000">(</text>
<text transform="translate(223.43 177.20) scale(1.1310 1)" font-size="28.80" font-style="italic" fill="#000" stroke="#fff" stroke-width="0.20">μ</text>
<text transform="translate(240.51 178.37) scale(0.7973 1)" font-size="38.58" fill="#000">)</text>
<line x1="262.90" y1="169.40" x2="280.10" y2="169.40" stroke="#000" stroke-width="1.25" stroke-linecap="butt"/>
<text transform="translate(289.56 177.20) scale(1.0992 1)" font-size="28.80" font-style="italic" fill="#000">α</text>
<text transform="translate(310.16 178.37) scale(0.8477 1)" font-size="38.58" fill="#000">(</text>
<text transform="translate(322.43 177.20) scale(1.1679 1)" font-size="28.80" font-style="italic" fill="#000" stroke="#fff" stroke-width="0.25">μ</text>
<line x1="343.90" y1="151.60" x2="343.90" y2="186.60" stroke="#000" stroke-width="1.3" stroke-linecap="butt"/>
<text transform="translate(348.90 187.00) scale(1.2186 1)" font-size="20.40" font-style="italic" fill="#000" stroke="#fff" stroke-width="0.14">h</text>
<line x1="362.70" y1="181.70" x2="375.40" y2="181.70" stroke="#000" stroke-width="1.0" stroke-linecap="butt"/>
<line x1="362.70" y1="184.80" x2="375.40" y2="184.80" stroke="#000" stroke-width="1.0" stroke-linecap="butt"/>
<text transform="translate(377.52 187.20) scale(0.8790 1)" font-size="20.40" fill="#000">0</text>
<text transform="translate(390.08 178.37) scale(0.8175 1)" font-size="38.58" fill="#000">)</text>
<path d="M402.70 152.30 H408.40 V185.90 H402.70" fill="none" stroke="#000" stroke-width="1.4"/>
<text transform="translate(416.93 177.20) scale(1.0234 1)" font-size="30.40" font-style="italic" fill="#000">H</text>
<text transform="translate(441.62 165.50) scale(0.9596 1)" font-size="20.40" fill="#000">4</text>
<text transform="translate(178.60 219.00) scale(1.0047 1)" font-size="30.40" font-style="italic" fill="#000">V</text>
<text transform="translate(195.65 223.00) scale(1.2526 1)" font-size="20.40" fill="#000" stroke="#fff" stroke-width="0.16">t</text>
<text transform="translate(202.86 223.00) scale(1.0756 1)" font-size="20.40" fill="#000">o</text>
<text transform="translate(213.62 223.00) scale(1.1681 1)" font-size="20.40" fill="#000" stroke="#fff" stroke-width="0.11">p</text>
<line x1="234.30" y1="211.80" x2="253.40" y2="211.80" stroke="#000" stroke-width="1.25" stroke-linecap="butt"/>
<line x1="243.85" y1="202.25" x2="243.85" y2="221.35" stroke="#000" stroke-width="1.25" stroke-linecap="butt"/>
<text transform="translate(262.18 219.00) scale(0.9545 1)" font-size="30.40" font-style="italic" fill="#000">V</text>
<text transform="translate(278.51 223.00) scale(0.9066 1)" font-size="20.40" fill="#000">g</text>
<text transform="translate(288.62 223.00) scale(1.4208 1)" font-size="20.40" fill="#000" stroke="#fff" stroke-width="0.21">t</text>
<text transform="translate(178.60 258.70) scale(1.0047 1)" font-size="30.40" font-style="italic" fill="#000">V</text>
<text transform="translate(195.85 262.60) scale(1.1490 1)" font-size="20.40" font-style="italic" fill="#000" stroke="#fff" stroke-width="0.09">h</text>
<text transform="translate(208.26 262.60) scale(0.8229 1)" font-size="20.40" fill="#000">,</text>
<text transform="translate(220.37 262.60) scale(1.1778 1)" font-size="20.40" fill="#000" stroke="#fff" stroke-width="0.11">t</text>
<text transform="translate(227.59 262.60) scale(1.0409 1)" font-size="20.40" fill="#000">o</text>
<text transform="translate(238.65 262.60) scale(1.2339 1)" font-size="20.40" fill="#000" stroke="#fff" stroke-width="0.15">t</text>
<text transform="translate(249.57 259.23) scale(0.8710 1)" font-size="32.19" fill="#000">(</text>
<text transform="translate(258.99 258.70) scale(0.9471 1)" font-size="29.50" font-style="italic" fill="#000">h</text>
<text transform="translate(275.43 258.70) scale(0.6995 1)" font-size="28.80" fill="#000">,</text>
<text transform="translate(290.33 258.70) scale(1.0718 1)" font-size="28.80" font-style="italic" fill="#000">μ</text>
<text transform="translate(307.23 259.23) scale(0.8347 1)" font-size="32.19" fill="#000">)</text>
<line x1="503.80" y1="85.50" x2="529.30" y2="85.50" stroke="#000" stroke-width="1.25" stroke-linecap="butt"/>
<path d="M521.8 78.6 C523.4 82.3 526.3 84.6 529.9 85.5 C526.3 86.4 523.4 88.7 521.8 92.4" fill="none" stroke="#000" stroke-width="1.25"/>
<path d="M542.2 82.2 L544.6 80.6" fill="none" stroke="#000" stroke-width="1.2"/>
<path d="M544.4 80.5 L550.8 93.2" fill="none" stroke="#000" stroke-width="2.3"/>
<path d="M550.6 93.6 L564.1 65.4 H631.9" fill="none" stroke="#000" stroke-width="1.15" stroke-linejoin="miter"/>
<text transform="translate(565.10 92.60) scale(0.8427 1)" font-size="29.66" fill="#000">1</text>
<text transform="translate(578.56 92.60) scale(1.0259 1)" font-size="29.66" fill="#000">2</text>
<text transform="translate(595.12 92.60) scale(0.9854 1)" font-size="30.40" font-style="italic" fill="#000">H</text>
<text transform="translate(620.34 84.10) scale(1.0350 1)" font-size="18.80" fill="#000">2</text>
<text transform="translate(513.69 400.20) scale(1.3301 1)" font-size="27.20" font-style="italic" fill="#000" stroke="#fff" stroke-width="0.28">m</text>
<text transform="translate(539.38 404.20) scale(1.1391 1)" font-size="20.40" font-style="italic" fill="#000" stroke="#fff" stroke-width="0.09">t</text>
<line x1="557.70" y1="389.90" x2="577.00" y2="389.90" stroke="#000" stroke-width="1.25" stroke-linecap="butt"/>
<line x1="557.70" y1="395.60" x2="577.00" y2="395.60" stroke="#000" stroke-width="1.25" stroke-linecap="butt"/>
<text transform="translate(587.50 400.20) scale(0.9468 1)" font-size="28.80" fill="#000">1</text>
<text transform="translate(600.26 400.20) scale(1.0195 1)" font-size="28.80" fill="#000">7</text>
<text transform="translate(614.30 400.20) scale(0.9074 1)" font-size="28.80" fill="#000">1</text>
<text transform="translate(628.39 400.20) scale(0.7934 1)" font-size="28.80" fill="#000">.</text>
<text transform="translate(637.45 400.20) scale(1.0077 1)" font-size="28.80" fill="#000">6</text>
<text transform="translate(663.21 400.20) scale(0.9516 1)" font-size="30.40" fill="#000">G</text>
<text transform="translate(684.03 400.20) scale(1.0413 1)" font-size="28.80" fill="#000">e</text>
<text transform="translate(696.59 400.20) scale(0.9120 1)" font-size="30.40" fill="#000">V</text>
<text transform="translate(728.52 401.08) scale(0.9011 1)" font-size="32.41" fill="#000">(</text>
<line x1="740.20" y1="392.80" x2="759.20" y2="392.80" stroke="#000" stroke-width="1.25" stroke-linecap="butt"/>
<text transform="translate(761.70 400.20) scale(0.9468 1)" font-size="28.80" fill="#000">1</text>
<text transform="translate(776.69 400.20) scale(0.7934 1)" font-size="28.80" fill="#000">.</text>
<text transform="translate(782.91 400.20) scale(0.8658 1)" font-size="28.80" fill="#000">3</text>
<text transform="translate(803.43 400.20) scale(1.1291 1)" font-size="28.80" font-style="italic" fill="#000" stroke="#fff" stroke-width="0.19">σ</text>
<text transform="translate(821.97 401.08) scale(0.8891 1)" font-size="32.41" fill="#000">)</text>
<text transform="translate(515.74 436.60) scale(1.0277 1)" font-size="30.40" font-style="italic" fill="#000">H</text>
<line x1="550.00" y1="426.30" x2="568.50" y2="426.30" stroke="#000" stroke-width="1.25" stroke-linecap="butt"/>
<line x1="550.00" y1="432.00" x2="568.50" y2="432.00" stroke="#000" stroke-width="1.25" stroke-linecap="butt"/>
<text transform="translate(579.47 436.60) scale(0.9137 1)" font-size="28.80" fill="#000">5</text>
<text transform="translate(594.09 436.60) scale(0.7934 1)" font-size="28.80" fill="#000">.</text>
<text transform="translate(602.59 436.60) scale(0.9176 1)" font-size="28.80" fill="#000">8</text>
<line x1="627.80" y1="422.00" x2="642.20" y2="436.40" stroke="#000" stroke-width="1.25" stroke-linecap="butt"/>
<line x1="627.80" y1="436.40" x2="642.20" y2="422.00" stroke="#000" stroke-width="1.25" stroke-linecap="butt"/>
<text transform="translate(653.13 436.60) scale(0.8581 1)" font-size="28.80" fill="#000">1</text>
<text transform="translate(666.25 436.60) scale(1.0486 1)" font-size="28.80" fill="#000">0</text>
<text transform="translate(682.29 425.60) scale(0.9553 1)" font-size="20.40" fill="#000">12</text>
<text transform="translate(714.30 436.60) scale(0.8807 1)" font-size="30.40" fill="#000">G</text>
<text transform="translate(733.32 436.60) scale(0.9569 1)" font-size="28.80" fill="#000">e</text>
<text transform="translate(744.65 436.60) scale(1.0249 1)" font-size="30.40" fill="#000">V</text>
<text transform="translate(513.85 473.10) scale(1.0365 1)" font-size="29.66" font-style="italic" fill="#000">ξ</text>
<line x1="537.80" y1="462.80" x2="557.20" y2="462.80" stroke="#000" stroke-width="1.25" stroke-linecap="butt"/>
<line x1="537.80" y1="468.50" x2="557.20" y2="468.50" stroke="#000" stroke-width="1.25" stroke-linecap="butt"/>
<text transform="translate(567.62 473.10) scale(0.9831 1)" font-size="28.80" fill="#000">0</text>
<text transform="translate(583.09 473.10) scale(0.7934 1)" font-size="28.80" fill="#000">.</text>
<text transform="translate(590.41 473.10) scale(0.9924 1)" font-size="28.80" fill="#000">0049</text>
</svg>
</body></html>
